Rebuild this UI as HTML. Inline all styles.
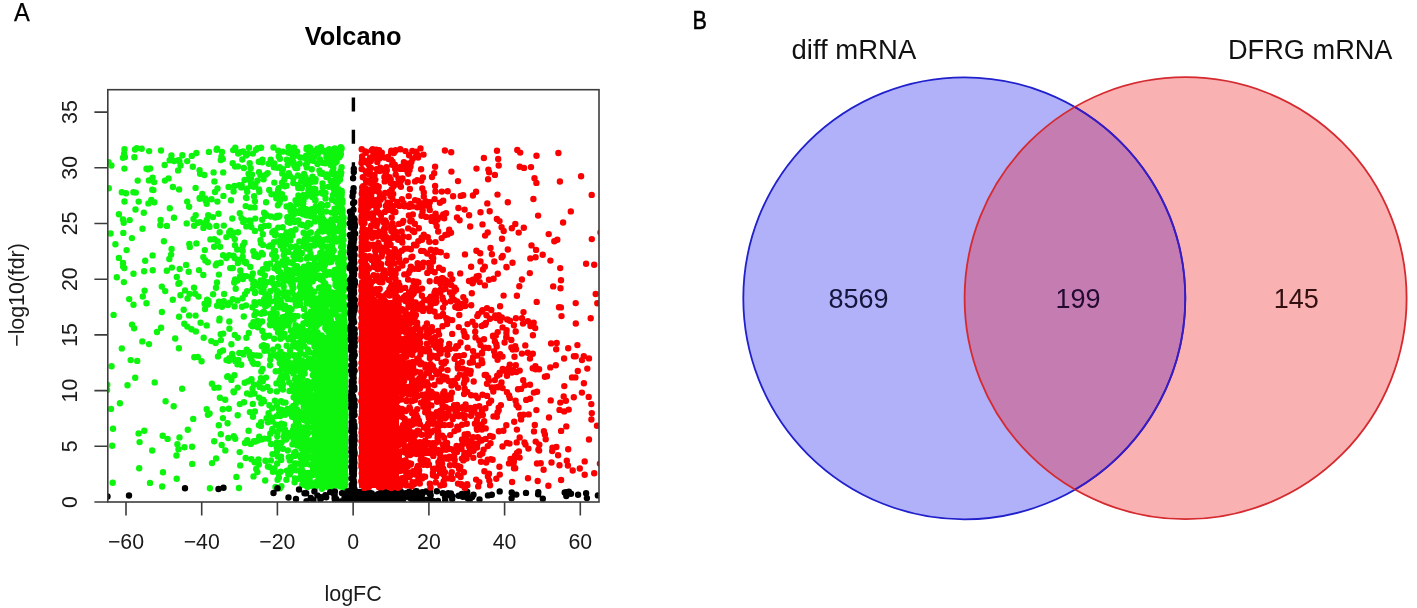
<!DOCTYPE html>
<html lang="en">
<head>
<meta charset="utf-8">
<title>Volcano plot and Venn diagram</title>
<style>
html,body{margin:0;padding:0;background:#fff;}
body{width:1417px;height:608px;overflow:hidden;position:relative;font-family:"Liberation Sans",sans-serif;}
svg{position:absolute;left:0;top:0;display:block;}
text{font-family:"Liberation Sans",sans-serif;font-variant-ligatures:none;font-feature-settings:"liga" 0,"clig" 0;}
.pts{fill:none;stroke-linecap:round;stroke-width:6.4;}
</style>
</head>
<body>
<svg width="1417" height="608" viewBox="0 0 1417 608">
<rect x="0" y="0" width="1417" height="608" fill="#ffffff"/>
<defs>
<clipPath id="plotclip"><rect x="107.8" y="89.7" width="491.2" height="412.3"/></clipPath>
<filter id="soft" x="0" y="0" width="1417" height="608" filterUnits="userSpaceOnUse"><feGaussianBlur stdDeviation="0.4"/></filter>
</defs>

<!-- panel letters -->
<text x="14" y="21.3" font-size="26.4" textLength="15.8" lengthAdjust="spacingAndGlyphs" fill="#000" stroke="#000" stroke-width="0.25">A</text>
<text x="692.4" y="29.4" font-size="26.2" textLength="14.4" lengthAdjust="spacingAndGlyphs" fill="#000" stroke="#000" stroke-width="0.5">B</text>

<!-- volcano title -->
<text x="353.1" y="44.8" font-size="25.4" font-weight="bold" text-anchor="middle" fill="#000">Volcano</text>

<!-- points -->
<g clip-path="url(#plotclip)"><g filter="url(#soft)">
<rect x="318" y="335" width="30" height="152" fill="#0cf40c"/>
<rect x="359" y="300" width="40" height="188" fill="#fb0000"/>
<path class="pts" stroke="#0cf40c" d="M235.3 147.7h0M249 147.7h0M261.1 147.7h0M273.5 147.5h0M288.6 147h0M294.2 147.7h0M306.7 147.9h0M309.3 147.5h0M321 147.1h0M340.8 147.3h0M124.1 153.6h0M124.5 149.3h0M135 149.5h0M136.8 148.2h0M141.7 148.7h0M149.1 151.1h0M161 150.5h0M171.4 155.5h0M182.4 155.2h0M191.8 155.9h0M196.4 153h0M208.9 151.9h0M216.6 149.7h0M217.1 148.7h0M222 151.9h0M233.2 150.1h0M238.2 153.5h0M240.1 152.3h0M243 151.5h0M246.1 155.4h0M247.6 153.8h0M252.9 153.6h0M256 149.7h0M257.6 148.2h0M278.3 150.7h0M283 151.6h0M288.1 152.5h0M289.4 153h0M290.9 150.6h0M291.7 152.4h0M295.9 154.7h0M296.9 155.6h0M297.1 151.6h0M306.1 155.8h0M306.5 149.1h0M308.8 151.3h0M310.1 152.4h0M310.3 148.3h0M314.2 151.1h0M317.4 148.8h0M318.1 153.5h0M322.5 151h0M323.8 150.8h0M325.2 152h0M328.9 154.5h0M328.9 151.2h0M329.1 149.3h0M334.7 148.4h0M335 152.4h0M336.1 150.3h0M336.6 153.4h0M336.7 151.5h0M338.3 154.7h0M338.8 151.6h0M339.7 155.8h0M340.2 155.8h0M340.9 154h0M341.1 149.7h0M341.6 148.3h0M108.5 162.3h0M123 157.8h0M124.9 157h0M134.4 157.3h0M169.7 160.2h0M174.1 161h0M178.4 160.1h0M179.4 161.2h0M187.2 161.1h0M220.8 160.1h0M221.4 156.8h0M222.8 158.9h0M232.7 163.3h0M242.3 159.5h0M249.7 163.3h0M258.8 161.7h0M262.3 162.3h0M262.5 159.8h0M268.7 163.7h0M270.7 159.8h0M274.3 163.4h0M278.8 156.5h0M279.9 158.7h0M286.8 159.8h0M291.6 159.9h0M292.7 158.2h0M293.4 162.3h0M294 163.8h0M299.7 163.6h0M300.4 157.5h0M304.4 157.7h0M307.2 160.1h0M307.3 162.4h0M310.1 158.7h0M313.1 160.8h0M313.9 157.4h0M317.5 163.9h0M317.5 163.1h0M319.9 159.1h0M323.1 162.9h0M325.2 163.3h0M326.4 156.9h0M326.7 157.4h0M328.4 160h0M328.8 161h0M329.2 162.1h0M329.4 159h0M330.9 163.8h0M331.9 157.1h0M333.9 157.9h0M334.7 160.2h0M335.5 161.5h0M335.9 162.2h0M336.3 157.6h0M336.7 161.6h0M337 157.7h0M339.2 157.2h0M111.4 165.5h0M124.4 168.6h0M146.5 168.8h0M147.9 169.3h0M150.1 168.5h0M164.7 165h0M178.1 170.4h0M180.6 165.5h0M192.8 166.7h0M199.6 170.3h0M235.1 166.6h0M237.9 166.4h0M243.9 168h0M250.7 168.2h0M273.9 167.2h0M277.3 167.8h0M279.8 167.3h0M282.2 169.9h0M282.9 169.2h0M287.7 164.9h0M294.3 165.4h0M295.5 168.1h0M297.2 168h0M306 164.7h0M306.8 167.4h0M311.8 169.3h0M319.4 170.5h0M330.7 164.9h0M332.2 171.7h0M333.3 167.9h0M333.7 164.2h0M340.5 171h0M341.6 167.3h0M152.6 177.8h0M168.6 178.4h0M200.1 173.8h0M204.4 175h0M213.6 172.4h0M223.2 172.4h0M244.6 179.9h0M248.6 173.6h0M249.3 177.4h0M251 178.7h0M252 174.4h0M259 172.1h0M260.4 175.1h0M263.6 179.3h0M266 174.6h0M267.7 173.1h0M282.2 173.6h0M284.3 179.5h0M286.1 176.1h0M286.3 176.3h0M288.8 173.3h0M289.9 175.9h0M293.3 178.5h0M297.9 175.5h0M301.7 178.1h0M303.4 178.1h0M304.1 174h0M304.6 179.3h0M305.4 176.9h0M310.1 179.7h0M312.5 176.8h0M315.6 179.3h0M320.4 173.5h0M322 173.8h0M322.3 173h0M326.4 177.1h0M327.3 174.4h0M327.8 176.8h0M331.9 173.8h0M333.8 172.6h0M334.2 173.2h0M334.8 175.1h0M337 174.5h0M337.1 178.6h0M340 179.8h0M340.1 174.6h0M340.8 175.1h0M341.2 172.8h0M137.7 180.6h0M148.9 180.4h0M154.2 182.1h0M164.9 180.6h0M172.9 187h0M195.6 187.9h0M214.4 181.4h0M228.6 186.9h0M234.5 186h0M239.2 185.3h0M241.2 187.4h0M241.7 185.3h0M250.6 181.8h0M250.7 186.1h0M252.9 184.8h0M253.8 186.7h0M255.5 184.1h0M257.4 180.8h0M274.3 182.6h0M282 182.8h0M284.7 186.2h0M286.5 185.8h0M293.3 183.1h0M297.9 184.9h0M301.2 181.5h0M305.4 183.8h0M305.9 180h0M308.7 186.1h0M310 181.5h0M311.8 181.7h0M312.9 180.5h0M314.7 181.2h0M315.3 181.6h0M322.6 183.5h0M322.8 187h0M322.9 187.3h0M328.7 186.7h0M330.6 180.8h0M332.3 183.1h0M332.6 181.2h0M334 183.9h0M334.9 180.2h0M335.3 187.6h0M335.9 186.7h0M336.9 183.5h0M338.3 181.3h0M108.8 188.2h0M121.8 192.3h0M126 193.3h0M133.4 192.2h0M135.8 192.6h0M152.3 189.7h0M153.4 190.1h0M179.1 189.4h0M202.3 194h0M215 192h0M217.5 188.5h0M223.4 195.9h0M233.6 191.4h0M246.7 188.7h0M247.2 191.8h0M259 189.4h0M259.3 191.8h0M269.2 190h0M271.5 194.3h0M275.8 194.3h0M278.1 190h0M278.7 193.5h0M278.7 188.1h0M282 194.3h0M298.3 188h0M298.4 195.4h0M301.8 188.3h0M303.6 195h0M308.4 190.5h0M308.5 192.6h0M310.5 195.5h0M313.1 192.4h0M313.8 188.7h0M313.8 190.2h0M315.3 189.3h0M316 193.7h0M321.2 192.7h0M322.9 193.8h0M325.5 192.9h0M333 195.1h0M333.7 188.9h0M333.9 193.6h0M336.6 193h0M338.4 189.2h0M339.4 192.6h0M341.7 191.4h0M341.7 190.9h0M341.7 195h0M341.8 192.3h0M124.5 201.5h0M138.7 201.6h0M148.4 203.4h0M151.3 199.9h0M154.3 202.2h0M187.2 201.6h0M199.6 198h0M199.7 198.7h0M205.3 198.5h0M205.6 200.6h0M206.7 203.8h0M211.5 199.2h0M217.4 201.6h0M231 200.2h0M246 197.6h0M246.5 198h0M254.1 196.2h0M254.9 201.2h0M266.1 202.2h0M276.3 198.3h0M279.6 203h0M279.9 198.2h0M280.1 200.2h0M284.7 198.2h0M295.6 200.2h0M296.9 203.9h0M300.2 201.1h0M301.9 199.5h0M302.8 202.4h0M303.2 203.6h0M303.5 200.5h0M305.2 197.1h0M305.9 196.8h0M312.6 197.2h0M313.5 197.5h0M315.2 200.6h0M315.5 199.9h0M325.6 198.5h0M332 199.7h0M335.8 201.8h0M337.1 201h0M338.4 197.8h0M342.4 200.3h0M342.5 202.8h0M135.5 209.5h0M169.8 208.3h0M189.1 206.7h0M245.7 206.1h0M250.3 207.4h0M254.6 207.4h0M277.9 205.2h0M286.6 206.5h0M290.2 205.3h0M290.5 210.6h0M292.2 206.8h0M293.8 209.2h0M299 211.8h0M300.5 209.6h0M302.8 205.5h0M303.4 209.4h0M305.6 209h0M309 210h0M311.3 212h0M311.8 209.1h0M315.7 206.4h0M317 210h0M320.9 207.5h0M321.1 204.1h0M322.5 205.4h0M326 211.5h0M327.5 205h0M334.6 208.8h0M336.8 209.2h0M338.4 205h0M338.8 210.4h0M339.5 206.9h0M341.3 212h0M341.8 208.1h0M342.1 209.5h0M342.6 210.3h0M104.2 215.1h0M118.9 214.2h0M123 219.5h0M143.8 212.8h0M174 217.8h0M193.5 219h0M195.7 215.1h0M206.8 219.9h0M208.2 215.2h0M212.9 217.1h0M218.5 213.7h0M232.3 218.5h0M239.8 213.2h0M241.5 218.1h0M243.9 220h0M255.3 218.6h0M262.2 219.7h0M264.1 212.8h0M265.3 215.9h0M265.9 214.4h0M270.8 216.5h0M275.1 217.5h0M277 215.9h0M278.5 216.7h0M279.4 215.7h0M287.3 217.2h0M290 216.3h0M294.1 214h0M298.5 212.7h0M299.5 212.7h0M302.9 214.3h0M306.1 215.2h0M308.5 215.5h0M311.2 216.2h0M311.2 212.7h0M312.8 215h0M314.4 212.1h0M315.4 217.8h0M318.8 218.2h0M320.9 213.1h0M321.9 216.6h0M323.4 219.5h0M331.4 219.5h0M331.5 212.6h0M334.6 213.5h0M335.4 217.8h0M337.8 218.9h0M339.9 212.6h0M341.7 219.3h0M341.9 218.9h0M342.1 215.6h0M342.1 218.5h0M342.5 213h0M342.6 217.5h0M343.6 217.4h0M123.7 222.8h0M129.7 220.1h0M160.3 225.2h0M160.6 220h0M166.9 225.9h0M186.7 223.4h0M194.1 225.7h0M198.2 222.7h0M200 222.2h0M203.4 227.9h0M205.2 222.9h0M208.1 225.1h0M209.5 226.8h0M216.4 225.9h0M223.8 225.6h0M243.2 221.9h0M244.7 220.5h0M246.3 226.4h0M249.7 220.4h0M250.4 222.4h0M251.3 227.1h0M261.1 227h0M264.5 226h0M268.6 225.8h0M278.2 227.6h0M282.7 227.2h0M287.7 221.7h0M289.9 222.7h0M290.8 221.4h0M293.8 220.2h0M294.7 222.1h0M298.2 220.4h0M300.3 224.4h0M302.4 225h0M306.8 226.7h0M308.1 223.2h0M308.2 222.9h0M308.3 223.3h0M309.4 224.5h0M310.5 223.7h0M314.8 221.4h0M321 223.3h0M321.4 226.8h0M323.9 223.3h0M324.6 225h0M325.2 227.2h0M325.2 222.5h0M326.3 221.7h0M326.4 225.6h0M326.5 228h0M327.8 226.8h0M328.5 221.7h0M328.8 222.7h0M329.5 227.7h0M330.5 225.5h0M332 228h0M332.4 222h0M332.9 225.5h0M337.9 220.3h0M339.6 226.4h0M339.9 225.8h0M340.3 220.1h0M341.2 223.9h0M341.8 223.6h0M342.3 227.7h0M342.5 223.2h0M342.7 225.3h0M342.9 226.4h0M343.2 220.1h0M343.2 226.3h0M343.6 223.7h0M110.6 233.5h0M123.3 232.9h0M142.5 228.7h0M219.7 232.2h0M229.2 232.2h0M230.4 230.8h0M232.6 235.4h0M233.4 232.7h0M238 232.2h0M254.9 230.9h0M261 228.7h0M262.8 234.3h0M272.3 232.4h0M273.4 231.2h0M274.8 230.6h0M275.1 235.2h0M275.8 233.9h0M285.8 234.7h0M286.7 232.5h0M287.9 235.1h0M290 232.4h0M291.1 231.2h0M291.7 232.4h0M292.5 232.7h0M292.5 235.5h0M295.5 229.5h0M303.6 232.7h0M308.8 233.3h0M310.8 232.5h0M317.3 233.8h0M319.2 231.5h0M322.4 231.6h0M323.1 228.6h0M324 231.1h0M324.1 229.3h0M329.4 232.8h0M332.8 230.8h0M333.8 236h0M335 230.8h0M336 228.6h0M337.7 230.8h0M341.8 234h0M342.3 229.6h0M342.9 230.2h0M343.5 234.7h0M131.9 238.1h0M163.9 241.3h0M189.3 243.9h0M196.4 243.4h0M210.4 239.4h0M214.3 239.3h0M217.7 241.4h0M226.4 237.1h0M234.8 239.1h0M244.5 242.8h0M260.5 240.2h0M261.1 243.5h0M273.9 242.1h0M277.5 241.5h0M278.2 241.7h0M281.2 236.1h0M281.3 238.9h0M282.6 243.2h0M282.6 241.6h0M285 240.2h0M287.3 240.4h0M290.4 240.5h0M299.3 241.4h0M302.7 242.1h0M304.9 238.9h0M305.6 240.4h0M305.9 242.1h0M306.8 237h0M307.8 237.9h0M308.7 239h0M313 239.2h0M315.2 243.4h0M316.9 237.3h0M317.4 242h0M317.5 243.9h0M318.7 238.1h0M320.5 240h0M321.6 241.1h0M324.7 239.8h0M327.9 238.7h0M328.5 239.9h0M329.6 239.2h0M334.8 241.4h0M336.7 241.6h0M338.8 238.8h0M341.2 237.5h0M342.4 242h0M343 240.4h0M343.5 239.9h0M115.4 244.2h0M126.6 250.1h0M171.6 249h0M189.8 246.9h0M204.8 250.1h0M214.1 246.7h0M220.1 246.8h0M235 245.2h0M237.2 249.5h0M242.7 251h0M242.8 245.7h0M253.3 251.3h0M262.9 244.9h0M268.7 246.4h0M269.4 246.4h0M270 245.5h0M272.2 245.3h0M274.2 250.6h0M275.2 251h0M280.6 245.4h0M283.2 249.8h0M283.9 250.2h0M285.2 250.7h0M285.9 244.6h0M288.3 251.9h0M291 246.9h0M295.9 246.5h0M296.7 250.2h0M298.7 248.3h0M303.6 245.3h0M304.2 246.3h0M306.2 248.5h0M308.8 245.4h0M309.6 249.4h0M314.2 245.6h0M314.2 244.8h0M314.9 245h0M320.8 245.3h0M322.3 247.5h0M322.4 245.3h0M323.7 246.5h0M327.6 246.5h0M328.5 250.5h0M330.9 247.1h0M331.9 245.3h0M332.7 248.9h0M333.7 250.4h0M341.1 246.6h0M341.9 248.6h0M342.9 245.5h0M343.2 250.4h0M343.3 245.4h0M343.6 251.3h0M118.9 257.9h0M152.6 255.4h0M169.3 259h0M171.1 254.6h0M203.3 257.1h0M223.1 255.2h0M226.4 258.1h0M229.1 255.3h0M233.5 255.8h0M234.7 258h0M237.5 259.6h0M242.4 259h0M242.7 256.7h0M254.3 256h0M254.8 254.5h0M255.5 256h0M255.5 254.1h0M258 257h0M261.7 253h0M262.8 254.4h0M272.2 254.5h0M273.8 252.1h0M274.3 258.9h0M276.2 256.9h0M283.8 255.2h0M286.5 259.4h0M293.5 255.7h0M293.5 254.7h0M294.6 259.2h0M295.8 252.4h0M296.5 256.1h0M296.9 257.5h0M297 254.6h0M298.1 258.2h0M300.4 259.3h0M300.4 253h0M301.8 253.3h0M306.8 258.4h0M307.4 257.1h0M310.5 253.6h0M312.2 257.9h0M316.9 257.8h0M320.3 252.9h0M321.1 257.9h0M324 253.5h0M324.2 256.6h0M325.7 258.2h0M326.5 259.8h0M327.3 252.5h0M328.6 257.8h0M331.9 255.6h0M332.2 252.2h0M332.5 258.1h0M335.7 258.3h0M340 256.9h0M340.8 253.3h0M343.2 255.5h0M343.8 258.5h0M123 262.9h0M123.1 266.5h0M145.2 260.7h0M171.9 267.6h0M186.1 264.9h0M205.3 260.5h0M207.8 262.3h0M215.8 265.3h0M217 263.4h0M220.7 262.7h0M232.8 268h0M237.9 263.1h0M244.4 262h0M245.9 262h0M246.1 263.3h0M250.3 266.9h0M266.4 264.2h0M269.9 263.7h0M275.9 267.5h0M276.6 266.2h0M277.8 263.5h0M278.6 264.1h0M281.7 264.4h0M282.7 261.1h0M284.6 265.2h0M285.1 265.4h0M289.3 262.2h0M292.8 263.6h0M296.8 267.6h0M297 266.3h0M304 266.6h0M308.5 266.1h0M308.7 264.8h0M310.1 265.7h0M312.5 267.2h0M314.5 263.8h0M314.6 263.3h0M316.2 266.2h0M316.6 266.8h0M319.8 264.8h0M319.9 264h0M320.3 263.8h0M321.2 261.2h0M321.2 264.5h0M321.3 261.8h0M322.2 263.2h0M322.7 261.7h0M325 264.7h0M326.9 262.1h0M328.1 261.9h0M329.6 262.2h0M331.4 261.7h0M331.6 260.8h0M338.2 263.1h0M339.7 263.9h0M341.2 260h0M343.2 261.3h0M343.2 265.3h0M344 265.2h0M344.2 264.8h0M124.3 268.1h0M133.5 273.8h0M144.1 271.2h0M152.7 270.2h0M166.8 270.8h0M179.7 269h0M188.7 271.7h0M199 270.1h0M203.3 275h0M218.9 274.6h0M230.2 268.1h0M240.3 270.5h0M243.1 276h0M252.8 273.5h0M260.3 272.5h0M261.5 273h0M262.1 271.4h0M262.9 269.3h0M264.8 275.4h0M267.6 268.6h0M274.5 268.2h0M277 269.4h0M278.1 271.1h0M278.4 268.1h0M280.3 272.1h0M284.3 274.8h0M286.7 269.6h0M286.9 275.1h0M287.5 272.8h0M289 270.1h0M290.7 274.9h0M291.9 274.5h0M293 274h0M293.6 270h0M295.8 271.6h0M297.3 272.4h0M297.7 272.2h0M297.7 273h0M297.8 270.7h0M298.5 272.9h0M299.5 273.8h0M299.6 268.9h0M299.6 273.7h0M302.1 269.7h0M302.3 274.2h0M306.7 271.2h0M312.1 269.5h0M312.2 270.7h0M315.2 273.8h0M317.2 269.2h0M319.4 275.7h0M320.9 268.1h0M323.9 269.5h0M324.2 269.2h0M324.7 274.9h0M325.8 275.3h0M327 272.1h0M327.1 272.2h0M330 272.1h0M330.3 274.4h0M334.8 270h0M335.5 272.5h0M337.1 272.2h0M337.8 268.9h0M338 275.4h0M339.8 271.5h0M341.1 268.3h0M343.1 271.1h0M343.6 268.3h0M344.1 275.7h0M116.8 277.3h0M123.9 282.1h0M176.8 277h0M178.4 283.7h0M179.5 283h0M217 282.4h0M234.2 282.5h0M235.1 279.5h0M237.4 280.6h0M240 276.5h0M242.9 279.1h0M246.3 276.1h0M251.6 279h0M251.7 276.6h0M253.3 283.8h0M254.2 281.6h0M257.6 283.9h0M260.7 280.4h0M261.6 282.4h0M262.7 281.2h0M264.2 282.6h0M264.5 281.5h0M268 282.1h0M272.1 278.3h0M273.4 283.8h0M278.7 277.6h0M279 278.3h0M281.7 277.2h0M283.4 282.9h0M283.9 281.4h0M285.2 280h0M287.4 277.9h0M290.1 281.8h0M291.5 280.9h0M293 279.5h0M297.5 279.4h0M301.1 278.9h0M301.1 276.4h0M304.3 280.4h0M306 276.6h0M306.5 280.6h0M307.7 283.4h0M308.7 276.2h0M310.6 279.9h0M312.7 281.2h0M313.3 276.7h0M313.4 278.5h0M315 278.3h0M316 276.3h0M316.8 277.9h0M316.9 276.5h0M319.7 278.2h0M320.7 279.4h0M321 278.5h0M321.6 278.2h0M322.5 280.3h0M323.5 281.6h0M323.6 281.7h0M325.3 283.7h0M334.7 278.7h0M335.2 277.5h0M335.7 283.2h0M337.1 283.8h0M338.4 280.4h0M341 279.5h0M341.3 277h0M341.3 278.7h0M342.5 277.7h0M343 280.1h0M343 278.6h0M343.1 282.3h0M343.3 283.7h0M343.6 276.4h0M343.7 279.5h0M344.2 281.3h0M144.6 290.6h0M161.8 286.6h0M165.2 291.1h0M185 290.4h0M194 287.7h0M216 287.8h0M235.7 288.8h0M247.1 291.1h0M252.7 288.6h0M254.9 291.7h0M258.4 285.7h0M261.3 291.8h0M261.3 288.2h0M263.6 289.9h0M264.7 285.2h0M270.4 291.3h0M274.5 288.5h0M277.4 284h0M277.7 291.1h0M278 284.2h0M283.7 286.7h0M284.2 291.7h0M291.6 285h0M292.6 289.1h0M292.8 284.3h0M293.4 287.7h0M300 286.7h0M300.4 285h0M300.6 287.3h0M300.7 284.3h0M301 290.8h0M302.3 285.6h0M303.8 290.3h0M306.1 287.9h0M306.5 284.1h0M307.1 290.8h0M309.3 285.9h0M309.3 291.7h0M310.6 289.6h0M314.5 291.7h0M319.2 287.6h0M319.3 288.1h0M321.3 287.2h0M321.3 291.6h0M324.4 286.4h0M325.9 290.6h0M326.1 290.2h0M326.8 289.6h0M327.9 291.5h0M327.9 290.4h0M328.5 287.3h0M329 291.5h0M335.5 285.3h0M336.9 286.8h0M338.4 285.2h0M339.4 290.7h0M341.6 286.9h0M341.9 284.5h0M342.4 289.9h0M343.1 291.1h0M343.4 288.6h0M343.4 286.7h0M343.6 290.7h0M343.8 289.8h0M344.2 287.9h0M344.2 285.4h0M344.3 284.1h0M129.2 299.1h0M142.8 296.5h0M172.8 299.8h0M180.4 295.2h0M187.6 298.5h0M189.6 293.9h0M195.2 293.8h0M198.5 296.6h0M207.1 299.8h0M213.1 294.2h0M224.1 294h0M232.8 299.2h0M242.6 298.2h0M245 294.3h0M255 293.1h0M264.1 299.2h0M265.5 294.7h0M267.1 294.7h0M269.2 297.1h0M276.7 296.2h0M277 296.7h0M277.1 292.1h0M280.6 299.3h0M281.9 293.1h0M284.1 296.1h0M287.5 299h0M287.5 296.6h0M287.7 292.7h0M291.8 299.4h0M292.2 292.8h0M295.2 299.2h0M295.5 295.7h0M297.6 299.2h0M299.2 295h0M299.6 296.2h0M299.9 293.8h0M300.1 299.4h0M302.8 292.2h0M303.1 295.1h0M303.7 296.8h0M304.3 293h0M306.6 298.7h0M308 295.4h0M308.2 292.1h0M308.9 292.5h0M310.9 294.2h0M312 294.8h0M312.4 297.1h0M314.8 298.1h0M315.2 299.4h0M320.1 297.8h0M320.9 297.5h0M321.2 292.9h0M323.2 295h0M326.1 296.7h0M326.2 297.4h0M328 295.6h0M329.7 298.6h0M329.7 297.9h0M331.1 298.9h0M331.3 294.1h0M332.5 292.8h0M332.7 292.6h0M334.2 293.6h0M334.9 295.1h0M335.1 294.2h0M335.6 293.7h0M335.6 297.3h0M335.6 292.9h0M336.1 293.7h0M337.6 297.5h0M338 295.2h0M338.4 293.3h0M339.1 293.2h0M340.1 293.8h0M340.1 296h0M341.8 295.3h0M341.9 293.1h0M342.1 299.2h0M343.1 299.8h0M344.4 296.9h0M133.5 304.7h0M146.5 303.3h0M204.6 303.8h0M208 304.6h0M208.3 300.7h0M208.6 302h0M217.1 305.7h0M219 301.8h0M222 306.7h0M223.8 301.3h0M228 305.1h0M229.8 302.6h0M234.6 306.4h0M237.5 300.5h0M242 306.8h0M246 305.4h0M252.4 307.2h0M254.5 302.2h0M255.6 304.9h0M259.5 302.1h0M261.8 303.4h0M265.2 306h0M266 305.9h0M266 300.1h0M268.5 304.6h0M270.3 301.7h0M275.1 301h0M277.1 305.2h0M278.9 307.5h0M279.7 305.8h0M281.1 302.4h0M284.3 307.7h0M285.1 305.6h0M289.5 308h0M295.8 303.8h0M296.4 305.5h0M300 303.4h0M300.1 304.9h0M306.7 303.2h0M306.9 302.2h0M309.8 303.6h0M311.7 304.9h0M311.8 300h0M312.8 303.7h0M313.5 302.5h0M314.2 307.4h0M315.4 303.5h0M319.5 301.9h0M319.8 300.8h0M319.9 305h0M320.7 300.5h0M322.1 304.7h0M322.9 305.3h0M323.1 301.4h0M323.7 301.3h0M326.3 302.1h0M328.6 303.9h0M329.9 300.1h0M330.4 304.6h0M331.2 302.8h0M333.4 305.5h0M333.9 306.7h0M335.2 304.3h0M335.5 302.5h0M335.9 306.2h0M337 300.3h0M337.4 303.8h0M339.2 305.7h0M340.1 306.6h0M341 303.9h0M341.7 303.1h0M343 304.1h0M343.3 307.8h0M343.6 304.7h0M343.8 303.6h0M343.9 304.3h0M344.5 304.6h0M344.7 305.6h0M113.6 314.9h0M161.9 312h0M183.7 309.7h0M189.1 315.4h0M195.6 315.6h0M205 309.1h0M254.4 315.2h0M255.9 312.2h0M256.6 312.9h0M261.2 313.8h0M262.4 312.7h0M263.8 311.7h0M264.7 313.1h0M270.7 313.7h0M273.7 309.3h0M276.7 313.8h0M283.9 308.7h0M288.1 312.8h0M289.9 308.9h0M290.5 314.6h0M291.6 309.3h0M294.3 316h0M304 308.9h0M307 314.5h0M310 315.2h0M311 311.7h0M312.2 314.8h0M312.5 313.6h0M313 310.8h0M315.2 312.9h0M316.3 309.4h0M317.4 314.6h0M318.9 310.3h0M321.3 314.1h0M322.3 308.9h0M322.5 313.3h0M323.5 308.4h0M326.1 309.8h0M326.6 313.4h0M327.5 312.2h0M327.9 315.7h0M329.6 312.2h0M330.8 312.8h0M332.5 309.5h0M332.6 312.4h0M333 312.3h0M333.1 314.4h0M333.3 313.5h0M336.5 310.3h0M339.4 309.4h0M341 308.2h0M342.3 308.7h0M343.5 315.9h0M344.1 315h0M344.2 308.1h0M344.3 311.3h0M344.4 308.7h0M344.4 310.6h0M344.5 313.6h0M344.7 310.8h0M179.1 316.8h0M184.3 323.8h0M200.6 322.8h0M219.3 320.4h0M219.6 318.8h0M229.3 321.5h0M243.8 316.5h0M253.4 322.2h0M257.7 320.9h0M259.4 323.4h0M262.1 321.5h0M270.3 319.4h0M270.7 320.1h0M271 317.5h0M273.6 320.7h0M274.6 316.9h0M277.2 323.5h0M279.9 319.5h0M282.6 317.3h0M283 321h0M284.2 321.3h0M286 316.1h0M289.1 320.5h0M289.5 321.8h0M290.1 318.9h0M291.3 317.6h0M293.6 319.4h0M297.7 316.1h0M303.4 323.5h0M304.2 316.1h0M306.3 322.3h0M307.3 319.7h0M308.2 321.4h0M308.5 316.6h0M308.7 317.4h0M309 320.9h0M309.8 323.6h0M311.4 316.9h0M311.5 321.8h0M314.2 321.4h0M314.3 316h0M314.6 320.8h0M314.9 321.9h0M315.1 316.2h0M317.3 319h0M317.5 322.4h0M317.9 318.9h0M318.6 324h0M318.8 322.9h0M319.3 323.6h0M320.8 321.5h0M320.8 318.8h0M322.1 322h0M322.3 316.3h0M325.3 322.5h0M326.3 320h0M329.4 320.7h0M329.9 323.4h0M330.8 319.9h0M333.9 323.8h0M337.7 323.5h0M337.9 316.1h0M338.2 318.4h0M339.6 316.5h0M340.2 317.8h0M340.5 318.8h0M341.4 322.5h0M343.8 318.2h0M343.9 322.2h0M343.9 319.2h0M343.9 320.3h0M344.5 323.2h0M344.6 322.1h0M132 324.6h0M134.1 328.2h0M161.1 327.8h0M187.3 326.6h0M191.5 329.3h0M195.9 331.4h0M206.7 325.4h0M229.4 328.8h0M251.3 325.3h0M252.5 326.2h0M257.8 327.2h0M262.3 330.9h0M269.8 324.6h0M270.2 325.2h0M275.3 326h0M276.2 327.7h0M276.3 326.2h0M277.4 327.3h0M279.3 329h0M281.3 324.7h0M282.4 327.5h0M283.5 326h0M288.3 325.4h0M291 330.7h0M295 328.9h0M295.6 325.3h0M298 326.8h0M299.7 330.9h0M302.9 329.2h0M306.6 331.8h0M307.5 331.1h0M308 324h0M309.7 324.5h0M310.5 325.6h0M312 326.7h0M313.8 330.9h0M314.1 324.7h0M314.2 329.5h0M315.2 331.4h0M315.7 331.6h0M316 326.4h0M316.3 326.4h0M317 325.6h0M325.3 328.1h0M325.5 326.5h0M326.6 329.7h0M328.4 332h0M331.1 328.3h0M332.7 326.5h0M333.5 327.9h0M333.7 329.7h0M336.1 330.5h0M336.2 327.4h0M336.7 327.8h0M337.3 328.6h0M339 330.6h0M339.2 328.7h0M339.4 324.2h0M340.2 327h0M341.4 325.8h0M342.9 328.1h0M343.3 330.9h0M343.6 327h0M343.7 325h0M344.2 329.1h0M344.3 324.7h0M344.6 327.1h0M345.1 330.8h0M345.1 327.1h0M157 332h0M175.2 338.5h0M203.7 337.8h0M220.7 334.2h0M223.2 333.6h0M234.8 334.9h0M237.8 337.8h0M246.4 337.8h0M248.8 333h0M263.8 336.6h0M264.6 337.5h0M265.6 335.8h0M269.3 335.7h0M274.2 338.8h0M278 332.6h0M280.5 338.8h0M280.6 336.8h0M281.4 332.7h0M283.6 336.7h0M284.6 334h0M288.5 339.2h0M289.8 339h0M290.7 337.1h0M292.7 334.3h0M293 339.9h0M294.8 334.8h0M295.3 336.3h0M295.8 332.3h0M296.3 333.6h0M298 336.1h0M301.3 339.2h0M301.6 338.6h0M302.5 335.4h0M303 332.1h0M303.8 338.1h0M306.1 336.1h0M306.5 339.2h0M307.5 333.9h0M307.7 337.7h0M307.8 335.4h0M307.9 334.3h0M308 339.5h0M308.2 335.9h0M312.1 337.5h0M312.1 333.1h0M312.2 339.4h0M314.6 335.7h0M315.7 338.5h0M316.3 337.7h0M316.9 338.8h0M317.5 335h0M317.6 332.5h0M318.6 339.1h0M319.5 335.7h0M319.8 336.6h0M321.6 337.5h0M321.7 335.5h0M326.5 338.8h0M327.5 338.5h0M328.8 338.8h0M331 334.4h0M332.4 337.1h0M332.7 335.5h0M332.8 335.6h0M334.7 334.5h0M335.9 337.2h0M336 338.6h0M336.5 333.8h0M337 332.2h0M337.6 334h0M339 338.9h0M339 333.1h0M340.1 332.6h0M340.6 333.5h0M340.9 333.4h0M340.9 338.3h0M343.4 332.2h0M343.9 338.3h0M344.5 333.6h0M344.8 336.2h0M142.3 341.4h0M149 344.1h0M211.3 341.1h0M215.7 343h0M220.9 340.1h0M231.4 344.2h0M261.8 346.2h0M263.6 345.2h0M266.8 346.6h0M266.8 346.3h0M277.9 346.6h0M286.7 345.8h0M293.1 345.3h0M295.2 346.5h0M296.2 346.5h0M298.5 343h0M298.5 348h0M299.3 346.4h0M300.4 347.1h0M301.8 344.2h0M303.5 341.7h0M304.3 346.4h0M309.7 341.6h0M313.3 342h0M314.4 345.9h0M314.8 346.8h0M315.8 346.4h0M316 344.2h0M316.2 345.3h0M316.8 344.3h0M317.9 343.4h0M319 344.1h0M319.1 340.1h0M319.8 347.3h0M320 343.7h0M321.4 347.9h0M321.6 345.7h0M322.3 343.5h0M323.6 341.6h0M324.1 342.8h0M324.7 343.6h0M325.5 345.1h0M325.9 341h0M326.1 344.5h0M326.2 346h0M328.7 340.2h0M330.3 340.3h0M332.4 340h0M332.8 346.3h0M333.8 343.6h0M334 344.2h0M334.6 340.7h0M335.9 340.5h0M336.5 342.7h0M336.6 340.4h0M337.1 346.8h0M338 345.9h0M340.5 340.7h0M340.7 341.6h0M340.9 343.2h0M341.3 345.1h0M341.5 347.2h0M342.6 342.6h0M342.7 347.2h0M343.9 341.8h0M344.2 340.5h0M344.3 342.4h0M344.4 341.9h0M121.8 348.4h0M178.9 348.2h0M220 351.9h0M223 350.4h0M232.2 354h0M239.3 352.9h0M241.4 353.1h0M242.5 353.2h0M243.4 354.4h0M246.7 349.8h0M246.8 350.8h0M249.1 351.9h0M253.1 355.2h0M256.8 355.5h0M259.6 355.8h0M264.5 350.7h0M267.2 350.5h0M271 355.2h0M273.2 349.8h0M275.3 355.5h0M278.4 354.4h0M280.5 351.6h0M280.9 354.7h0M283.5 355h0M283.7 354.7h0M286.1 355.4h0M289.3 355h0M290 350.5h0M294 355.4h0M294.4 355.3h0M299.2 354.4h0M300.1 354h0M300.4 348.5h0M300.5 352h0M305.5 354.7h0M307.9 349.4h0M310.1 352.6h0M314.9 355.3h0M315.8 351.8h0M316.3 354.9h0M317.3 350.3h0M317.3 352.9h0M318.1 350.1h0M318.6 353.4h0M318.7 348.4h0M319.2 355.3h0M320 353.6h0M321.3 350.6h0M321.7 354h0M323.1 350.9h0M323.1 349h0M323.1 350.3h0M327.3 348.8h0M327.6 348.7h0M328.3 348.6h0M329.9 348.9h0M330.1 353.8h0M331 354.5h0M332 350.7h0M333.3 353.5h0M333.8 356h0M336.2 351.8h0M336.7 349.2h0M337.4 354.2h0M337.6 352h0M337.7 349.6h0M339.1 348.9h0M339.6 348.7h0M340.5 351.2h0M341.8 349.7h0M342.2 354.4h0M342.4 350.9h0M342.7 354.4h0M343.2 354.6h0M343.3 354.7h0M344 349.6h0M344.2 351.2h0M344.5 353.4h0M345.1 349.8h0M130.7 360.1h0M137.2 360.9h0M194.3 357.3h0M197.8 357h0M201.6 361.2h0M218 356.4h0M226.5 360.1h0M228.9 360.8h0M229.3 358.3h0M232.7 357.4h0M233.9 359.4h0M235.2 360.1h0M235.5 361.3h0M238.3 360h0M250 356.1h0M251.2 358.9h0M252.5 362h0M253.8 363.7h0M270.3 359.5h0M277.7 356.7h0M279 358.3h0M279.8 362.9h0M282.9 357.5h0M285.3 361.3h0M285.6 362.1h0M288.2 356.8h0M289.3 362.8h0M295.2 356.5h0M295.3 362h0M296.2 356.2h0M296.5 359.7h0M296.9 359.2h0M297.9 363.1h0M298.1 360.8h0M298.3 356.4h0M301.9 360.4h0M306.7 361.9h0M308.8 362.1h0M309 359.1h0M309.1 363.1h0M309.5 359.4h0M310.5 359.2h0M311.1 362.5h0M311.6 360.8h0M311.9 361.8h0M312.3 359.2h0M312.4 362.2h0M312.6 364h0M318.2 360.9h0M319 356.8h0M319.8 357h0M320.3 356.6h0M321.4 363.6h0M323.1 358.7h0M323.1 356.8h0M323.3 358.5h0M324.5 359.8h0M326.2 363.4h0M327.7 356h0M327.8 363.8h0M327.8 359h0M327.8 356.4h0M329.2 360h0M332 357.3h0M332.3 360.2h0M332.5 358.4h0M333.1 363.6h0M333.6 364h0M333.7 363.1h0M334.3 360.1h0M335.1 362.6h0M335.7 359.3h0M337.5 360.6h0M338.5 363.6h0M339.2 357h0M339.9 360.7h0M341.4 361h0M342.6 361h0M342.7 357.7h0M343.1 357.2h0M343.9 357.2h0M344.3 356.5h0M344.8 356.2h0M344.9 363.4h0M344.9 360.7h0M345 360h0M345.1 359.8h0M345.3 359.4h0M111.6 366.3h0M237.4 364.3h0M241.2 364.7h0M257.7 364h0M261.3 371.4h0M262.6 368.9h0M270 365.3h0M275.7 371.2h0M279.8 371h0M282 366.4h0M282.8 368.3h0M283.3 366.9h0M285.3 369.2h0M287 367.8h0M287.7 371.4h0M288.2 371.4h0M288.4 368.9h0M289.3 368.6h0M291.1 366.2h0M291.4 365.4h0M291.5 370.6h0M292.6 370.3h0M295.2 369.2h0M296.7 370.5h0M297.1 367.7h0M298.3 364.3h0M298.9 366.4h0M300.3 369.9h0M300.3 364.3h0M300.8 366.1h0M305.1 368.2h0M306 365.8h0M306.3 364.7h0M306.7 367.1h0M308.8 366.5h0M311.7 367.6h0M311.8 367.1h0M311.9 368.7h0M314.2 371.8h0M315.3 370.3h0M317.3 366h0M317.4 365.9h0M317.5 366.7h0M318.5 369.8h0M319.2 368.5h0M320.3 368.3h0M320.9 365.7h0M321.4 370.2h0M321.5 370.3h0M323.4 364.3h0M323.5 369.7h0M323.7 368.6h0M323.7 365.5h0M326.2 365.1h0M329.4 370.5h0M329.9 371.4h0M330 368.7h0M330.2 371.7h0M332.9 369.3h0M333.3 371.5h0M333.6 370.3h0M334.3 368.1h0M335.7 371.6h0M336 364.5h0M336.4 364.4h0M338.4 371.3h0M338.8 368.4h0M340.6 365.1h0M341.1 371.7h0M341.1 369.5h0M341.5 365.3h0M341.5 368.5h0M342.5 366.4h0M343.7 366.5h0M344.1 368.8h0M344.2 366h0M344.5 367h0M344.5 371.6h0M344.8 369.3h0M345.2 364.1h0M345.3 370.6h0M345.3 366.4h0M135.2 377.7h0M227.2 376.7h0M227.9 376.2h0M231.4 379.9h0M231.5 378.1h0M234.4 375.3h0M251.4 379.1h0M251.6 379.5h0M260.9 378.1h0M266 377.6h0M280.5 378.2h0M281.3 375.8h0M284.5 375.3h0M287.2 377.4h0M293.3 373.4h0M293.5 372.5h0M295.1 379.3h0M296.7 377.8h0M297.8 379.3h0M300.6 377h0M300.8 373.7h0M302.4 376.8h0M304.7 373.5h0M312.8 375.3h0M313.5 374.2h0M314.6 375.3h0M315.4 379.3h0M315.8 374.5h0M317.9 375.5h0M318.5 372.5h0M321.2 372.8h0M322.7 375.8h0M323.4 372.2h0M326.1 377.6h0M326.9 374.1h0M328 376.2h0M331.6 373.3h0M331.8 378.1h0M332.6 376.7h0M332.8 375.6h0M334 374h0M334.4 375.9h0M334.9 379.1h0M335.9 377h0M336.3 372.8h0M337 376.6h0M337.8 379.7h0M338.5 376.8h0M338.9 374.2h0M339.1 373.4h0M339.4 372.5h0M339.8 378h0M339.8 374.9h0M341.2 377.8h0M341.5 378.3h0M342.1 377.7h0M342.5 373.8h0M343.1 378h0M344.1 377.6h0M345.2 375.2h0M345.2 378.4h0M345.2 377.1h0M345.4 372.5h0M107.3 384.8h0M127.5 385.2h0M154.7 382.4h0M211.9 383.7h0M214.4 387.8h0M218.5 387.6h0M237.7 387.6h0M244.7 382.7h0M248 381.4h0M253.9 384.8h0M259.6 382.9h0M259.7 386.9h0M262.8 381.2h0M267.4 386.9h0M276.5 383.4h0M279.5 380.1h0M281.3 386.9h0M282 380.2h0M283 384.7h0M289.2 382.4h0M291.9 385.1h0M292.2 385.1h0M295.4 387.2h0M295.4 387h0M296.1 384.4h0M296.6 381h0M297.7 385.3h0M300 386.7h0M300.8 380.9h0M301.4 387.1h0M302.1 384.3h0M302.9 384.6h0M304.2 385.5h0M304.6 384.3h0M306.2 386.5h0M307.2 381.3h0M308.3 382h0M308.4 382.3h0M308.8 382.5h0M311.8 385.4h0M313.5 386.4h0M313.9 385.8h0M314.2 385h0M314.2 380.7h0M314.9 382.3h0M316.6 386.8h0M317.3 380.2h0M319.9 380.8h0M320.3 381h0M323.4 387.9h0M323.9 383.8h0M326.3 380.6h0M328.6 386.7h0M328.9 384.9h0M331.5 384h0M332.5 382.3h0M332.9 380.8h0M334.2 383.5h0M334.7 385.6h0M335.3 384.7h0M336.2 382.2h0M336.3 385.9h0M337.1 385.8h0M338.1 382.4h0M338.4 384.3h0M339.4 380.8h0M339.7 386.9h0M340 388h0M341.7 382.2h0M342.3 386.3h0M342.8 384.7h0M343 382.8h0M343.9 380.6h0M344 383.6h0M344.2 383.1h0M344.3 384.3h0M344.4 384.6h0M344.5 387.1h0M344.8 385h0M345 383.7h0M107.1 389.9h0M182.1 388.8h0M233.5 391.4h0M233.9 392.2h0M247.1 393.4h0M250.4 394.4h0M252.5 388.7h0M254.5 393.6h0M263 388.5h0M270.1 390.7h0M276.8 391.4h0M282.9 389.5h0M289.5 391h0M293.1 391.1h0M295 393.5h0M296.3 389.7h0M296.5 391.7h0M297 395.1h0M297.2 395h0M298 395.4h0M299.2 390.6h0M300.8 390.9h0M302.6 395.1h0M302.9 394.4h0M303.4 392.6h0M304 389.9h0M305.3 388.5h0M306.3 389.5h0M308.2 390.8h0M309.2 392.2h0M310.4 393.6h0M310.6 395.1h0M313.3 388.1h0M315.5 388.8h0M315.7 394.6h0M316.4 395.2h0M316.5 390h0M316.7 388.5h0M318.4 389.6h0M318.8 395.4h0M319.3 392h0M320.8 391.1h0M321.1 392.5h0M322.4 395.3h0M325.5 392.3h0M325.8 389h0M325.8 389.6h0M326.6 394.5h0M327.1 391.1h0M328.8 388.5h0M328.9 388.9h0M329.2 395.3h0M330.2 395h0M331.4 394.3h0M331.6 392.2h0M332.1 388.6h0M332.4 388.8h0M335.6 391.6h0M335.8 391.5h0M336.1 388.2h0M336.4 395h0M336.4 389.4h0M337.2 391.5h0M337.6 393.2h0M338.9 391.6h0M338.9 393.1h0M339.2 395.3h0M340.2 394.2h0M340.9 388.9h0M341.2 392h0M341.3 391.7h0M341.4 393.1h0M343.8 388.3h0M344.3 393.4h0M344.9 389.5h0M345.2 388.8h0M119.9 403.2h0M165.6 401.3h0M219.9 397.7h0M225.2 399.7h0M244 402.3h0M252.8 403.9h0M259.2 397.8h0M261.3 403.2h0M263 399.6h0M264 401.3h0M274.9 400.8h0M281 401.2h0M283.3 402.5h0M285.5 402.6h0M293.6 397.3h0M295.4 398.4h0M295.9 403.8h0M297.9 399.3h0M298 401.6h0M298.8 397.8h0M298.9 396.9h0M299.9 398.1h0M300.6 400.9h0M302.2 401.9h0M302.6 396.3h0M303.7 397.8h0M305.1 397.2h0M305.9 397.6h0M306.2 399.3h0M306.3 401.9h0M306.7 403.9h0M308.3 401.1h0M310.1 402.3h0M310.9 400.1h0M311.6 398.4h0M311.7 402h0M312.1 398.7h0M312.7 399.5h0M313.1 403.1h0M316.1 397.9h0M316.3 396.4h0M316.4 399.2h0M316.8 396.1h0M317.7 402.9h0M318.9 401.2h0M319.4 402.5h0M320.6 398h0M321.2 401.5h0M321.5 402.9h0M321.6 403.3h0M322.5 396.2h0M323.6 402.1h0M324.3 402.5h0M324.8 398.9h0M325.9 396h0M327.3 399h0M328.1 396.5h0M329.1 402.5h0M331.8 398.2h0M333.5 398h0M333.5 401.7h0M333.5 402h0M334.3 400.3h0M337 403.7h0M337.5 401.3h0M338 397h0M338.3 402.5h0M339.9 401.1h0M340.6 403.1h0M341 400.9h0M341.6 403.4h0M343.2 403.8h0M344.2 399.9h0M344.3 401.1h0M344.4 398.9h0M344.4 402.7h0M344.6 399.2h0M344.9 398.4h0M344.9 399.4h0M345.4 402.7h0M345.4 401.3h0M111 408.9h0M173.7 406.3h0M206.7 409.3h0M222.7 409.3h0M228.8 408.7h0M239.8 404.1h0M254.9 411.5h0M269.4 405.3h0M272.2 408.2h0M276.8 405.8h0M279.1 409.1h0M280.3 409.5h0M281.4 409.6h0M287.4 408.9h0M288 409.1h0M291.8 407.5h0M292.9 406.7h0M293.1 409.2h0M293.2 405.9h0M293.3 407.4h0M295.8 409.4h0M296.6 411.2h0M296.9 409.4h0M299.4 411.6h0M303.8 406.8h0M304.6 405.7h0M307.1 408.1h0M307.4 411.7h0M308.3 406.2h0M312.6 407.8h0M312.7 405.4h0M313.2 410.5h0M315.2 411.3h0M317.7 407.7h0M318.1 412h0M318.2 408.8h0M318.7 408.6h0M320.5 404.8h0M320.6 404.4h0M321.7 406.6h0M322.5 405h0M323.1 407h0M323.2 407.3h0M326.3 408.4h0M326.7 408.9h0M328.5 404h0M329.3 409.5h0M329.4 407h0M330.7 410.5h0M330.8 404.4h0M331.4 409.4h0M333.9 406.6h0M335.3 411.9h0M336.3 408.6h0M337.3 404.1h0M338.2 409.6h0M338.5 404.4h0M340.8 404.5h0M341 412h0M341.2 404.3h0M341.3 409.9h0M342.4 404.1h0M343.1 406.7h0M343.2 407.5h0M343.7 405.3h0M344.2 406.6h0M344.5 406.2h0M344.5 411.9h0M344.8 408.3h0M345.1 404.7h0M345.4 411.5h0M193.2 418.9h0M207.9 414.7h0M209.6 413.4h0M222.9 418.1h0M237.7 415.3h0M249.9 412.1h0M253 416.8h0M266.6 418.2h0M268.6 413.3h0M271.8 417.7h0M276.7 416.1h0M278.9 413.6h0M280.2 416h0M282.8 414.1h0M285.1 414.8h0M286.8 413.5h0M290.6 412.4h0M291 413.9h0M292.1 416.8h0M294.9 415.1h0M296.5 416.6h0M296.9 417.8h0M297.2 413.3h0M297.8 416.9h0M300 414.8h0M300 412.9h0M302 419h0M303.4 415.1h0M303.6 413h0M307.6 412.7h0M308.6 418.1h0M308.7 412.3h0M308.8 412.1h0M309.7 417.3h0M312.6 417.3h0M313.4 415.9h0M314.7 417.6h0M315.1 413.2h0M315.3 418.8h0M316.4 417.1h0M316.5 420h0M317.9 419.7h0M318 414.3h0M319.1 415.5h0M319.2 417.2h0M322.3 419.2h0M322.4 419.9h0M323 412.2h0M323 417.5h0M323.4 419.6h0M324.6 418.4h0M325.2 418.9h0M327.4 419.2h0M328.8 412.4h0M331.7 413.2h0M332 416.5h0M334.8 419.3h0M335 416.2h0M335.5 418.1h0M336.5 418.1h0M339 419.2h0M339.3 419.7h0M343.9 414.6h0M344.1 412.6h0M344.2 413.1h0M344.2 419.6h0M344.5 417.2h0M344.6 414.7h0M344.7 413.1h0M344.9 413.1h0M345.1 412.4h0M345.2 418.6h0M345.4 415.4h0M345.5 417.1h0M218.8 425.3h0M227.6 423.2h0M258.9 425.1h0M260.9 425.9h0M261.1 422.1h0M267.9 422.3h0M272.4 421.4h0M275.9 424.8h0M277.6 424.9h0M281.4 423.7h0M284.1 424.5h0M293.8 426.2h0M295 425.9h0M295.9 420.9h0M297 425.5h0M297.7 426h0M297.8 425h0M298 424.9h0M298.9 420h0M298.9 425.2h0M303.7 427.5h0M304.5 420.3h0M306.1 427.8h0M306.3 420.9h0M307.7 426.3h0M308.4 427.4h0M309.6 427.6h0M310.8 421.1h0M313.9 426.5h0M314.5 421h0M314.6 423.8h0M314.8 427.7h0M315.8 420.3h0M316 427.6h0M316.6 425.3h0M317.9 426.4h0M318.4 424.6h0M318.7 421h0M318.8 426.8h0M320 422.7h0M321.9 424.9h0M322.6 425.5h0M323.7 421h0M324.4 426.2h0M325.7 421.3h0M325.8 425.7h0M326.3 426.8h0M327.7 425.7h0M328.4 422.9h0M328.7 422.4h0M330.3 427.8h0M330.5 421.5h0M330.8 421h0M332 420.8h0M332.4 420.2h0M333 420.4h0M333.3 424h0M333.7 424.1h0M335.6 422.9h0M335.8 427.4h0M336.5 427.5h0M338.3 420.1h0M338.9 422.2h0M339.2 427.5h0M339.8 424.2h0M340 421h0M340.9 425.4h0M341.7 424.6h0M342.1 420.9h0M342.4 427.7h0M344.1 421.6h0M344.3 426.1h0M344.6 427.9h0M344.8 426.1h0M113 428.8h0M138.6 433.4h0M144.3 430.7h0M162.7 435.8h0M187.8 429.8h0M220.8 434.2h0M248.6 430.8h0M270.3 433.8h0M272.1 430.2h0M272.5 428.9h0M272.6 430.9h0M277.5 432.6h0M277.6 431.7h0M279.3 429h0M284.4 433.3h0M285.1 429.8h0M287.4 435.4h0M288.8 433.1h0M289.7 435.1h0M293 430h0M294.7 434.6h0M297.9 429.1h0M297.9 428.8h0M298.2 433.2h0M298.2 429h0M301.8 435h0M301.9 431.7h0M303.9 432.9h0M304.6 435.2h0M306.8 435h0M307.4 434.1h0M308.2 433h0M314.2 432.2h0M314.5 431.3h0M314.9 435.2h0M315.2 430.5h0M317.9 434.2h0M319.5 435.3h0M320.4 434h0M322.6 429.9h0M322.6 429.6h0M323.9 432.3h0M324 435.3h0M326.7 432.4h0M328.3 430.6h0M328.4 433.5h0M329.9 432.6h0M332.2 429.6h0M332.3 430.6h0M332.5 430h0M333.2 431.2h0M333.4 434.9h0M333.5 434.5h0M334.2 433.9h0M334.4 435.3h0M334.8 435.2h0M337.8 432.4h0M339.1 433.1h0M339.3 433.6h0M339.4 428.3h0M339.5 434h0M340.1 432.8h0M340.5 435.1h0M341.4 435.7h0M341.8 434.9h0M343.4 435.6h0M344 428.5h0M344.2 433.5h0M345.1 435.4h0M345.4 432.1h0M139.6 442.1h0M167.6 438.9h0M179.5 437.4h0M214.2 441.3h0M228.3 438h0M233.8 436.1h0M235.2 438.7h0M245 443h0M246.4 441.7h0M247.3 440.1h0M250.8 443.9h0M253.9 441.3h0M255.3 441.5h0M258 440.5h0M259.2 436.7h0M261.5 439.4h0M264.5 438.6h0M268.5 438.8h0M271.1 444h0M276.9 442.5h0M277.3 436.2h0M281.5 442.6h0M283.8 436.8h0M286 439.5h0M287.8 436.9h0M293.8 439.2h0M293.9 442.4h0M294.3 440.8h0M295.8 438.3h0M296 437.1h0M296.3 443.9h0M297 440.7h0M298.1 437.7h0M298.4 442.9h0M298.5 441.8h0M301.3 440.5h0M303.5 440.8h0M303.8 438.7h0M303.8 439.7h0M306.3 438.9h0M306.4 436.5h0M306.9 440.7h0M309.8 441.9h0M310.7 440.5h0M311.9 440.1h0M313.4 439.8h0M313.6 440.5h0M315.9 438.7h0M318.7 443.3h0M319.2 438.2h0M320.1 439.8h0M320.7 441.7h0M320.8 440.7h0M321.1 443.9h0M321.2 442.2h0M322.4 443.1h0M325 437h0M326.7 439.2h0M328.9 441.7h0M332.4 443h0M332.4 442.9h0M332.7 442h0M333 444h0M333.1 439h0M333.2 436.4h0M334.7 443.2h0M336.1 438.8h0M336.3 438.3h0M337.6 438h0M337.8 439.6h0M338.9 436.2h0M339.3 438.1h0M339.5 440.2h0M339.5 441.7h0M340.3 442.3h0M340.5 438.1h0M341.7 442.9h0M342.8 441.7h0M342.9 439.6h0M343.4 440.6h0M344.2 441.5h0M344.2 439.5h0M345.1 438.4h0M345.1 442.9h0M112.2 445.7h0M152.2 450.5h0M177.4 444.2h0M178.5 449.2h0M184.5 447.3h0M192.1 446.8h0M221.7 445h0M225.3 450.4h0M276.7 447.1h0M277.1 451.1h0M279.3 446.6h0M282.9 448.7h0M287.8 450.5h0M292.4 444.4h0M295.5 451.9h0M297.3 445.5h0M298.7 444.5h0M299.5 446.1h0M301.4 448.3h0M302 445.2h0M303.7 448.5h0M304.6 446.2h0M305.5 448.9h0M307.1 445.9h0M307.1 448.2h0M307.5 451.2h0M307.6 445.3h0M309.8 447.2h0M311.1 448.6h0M312 448.9h0M312.1 448.1h0M313.5 448h0M313.8 445.6h0M315.7 450.4h0M318.6 448h0M318.6 450.7h0M320.2 448h0M320.7 444.8h0M321.7 445h0M323.2 449.2h0M324.5 445.1h0M326.6 449.1h0M326.7 450.9h0M326.7 451.1h0M326.9 445.7h0M327.8 448.6h0M328.6 446.6h0M330.6 450.6h0M330.9 450.2h0M331 445.6h0M331.1 449.3h0M332.4 444.5h0M333.4 447.1h0M333.8 444.2h0M333.9 451.7h0M335.2 447.3h0M336.7 445.1h0M337.7 448.7h0M339.6 447.8h0M339.9 450h0M341.7 444.3h0M343.4 450.5h0M343.9 449.7h0M344 451.5h0M344 447.3h0M344.1 445.5h0M344.3 444.7h0M344.3 448.8h0M344.4 449.6h0M344.4 450h0M344.6 445.3h0M345 448.3h0M345.1 447.1h0M176.5 455.5h0M216.1 458.4h0M239.7 452.1h0M245.7 458h0M251.4 459.2h0M258.4 459.4h0M272.5 454.1h0M277.7 456.6h0M281 456.7h0M281.2 459.9h0M288.7 457.1h0M291.3 456.9h0M294.2 452.9h0M294.5 455.9h0M294.6 454.6h0M296 454.9h0M299.8 455.4h0M300.7 457.4h0M302.1 458.6h0M302.7 453.9h0M302.8 453.1h0M302.9 453.4h0M302.9 457.4h0M303.2 458.3h0M304.2 453.3h0M305.3 452.9h0M306.2 458.8h0M306.5 454.7h0M308.9 457.1h0M310.8 456.7h0M311.4 457.9h0M313.5 452.4h0M314.7 455.1h0M315.5 454h0M315.6 458.4h0M316.3 455.6h0M316.8 455.9h0M317.4 457.8h0M320.5 455.4h0M320.8 455.2h0M321.3 456.8h0M322.7 457.3h0M323.1 452.1h0M324.2 458.4h0M324.5 459.6h0M324.9 459.3h0M326.6 456.7h0M327.6 452.8h0M328.5 454.2h0M329.9 458.5h0M330.8 459.1h0M331 452.1h0M331.6 459.7h0M331.6 455.9h0M332 456.5h0M332 457.4h0M332.1 458.7h0M332.7 459.2h0M332.8 458.1h0M333.7 457h0M333.9 455.4h0M336.8 458.7h0M337.1 453.5h0M337.2 456.4h0M337.4 456.8h0M337.4 455.4h0M337.4 457.7h0M338 458h0M339.3 459.8h0M341.3 457.9h0M344.4 459.1h0M345.1 455.4h0M345.1 459.8h0M345.3 457.6h0M345.4 457.1h0M345.5 456h0M192.2 463.9h0M212 463.1h0M240.2 465.4h0M254.6 462.3h0M258.8 464.4h0M265.4 460.8h0M267.9 466.5h0M269.3 467h0M270.9 460.4h0M277.2 463.5h0M289.8 460.5h0M290.7 467.1h0M294.8 463.5h0M296.2 463.8h0M299.1 463.7h0M301 464.5h0M302.1 463h0M302.9 461.7h0M303.8 462.8h0M304.9 463.9h0M306.1 462.1h0M309.8 464.6h0M312.5 464.6h0M312.9 464.3h0M313.6 462.5h0M314.4 463.6h0M314.5 467h0M314.9 460.7h0M315 467.7h0M316.2 460.4h0M317.4 465.2h0M321.7 467.3h0M325.7 463.3h0M326.1 463.2h0M326.6 461.7h0M326.7 466.4h0M327.2 463.9h0M327.5 461.5h0M331.1 461.7h0M331.7 466.5h0M332.4 466.1h0M333.7 466h0M334.6 467.6h0M337.4 466.6h0M340.2 465.4h0M341.9 466.5h0M341.9 461.6h0M342.2 460.9h0M342.6 465.2h0M343.2 463.7h0M344.3 467.2h0M344.6 460.1h0M344.7 461.3h0M345.4 462.4h0M139.2 468.3h0M163 472.2h0M256.2 469h0M257.4 472.1h0M272.9 471.7h0M274.5 468.3h0M278.4 473.3h0M280.7 471.8h0M286.9 470.6h0M288.3 474.2h0M289.8 474.3h0M291.6 470.9h0M292.4 468.2h0M296.4 470.3h0M301 472.6h0M301.7 468.8h0M303.8 472.5h0M304.3 473.6h0M307.7 475.6h0M307.9 472.9h0M311.3 474.7h0M311.7 472.8h0M313.1 469.1h0M313.9 474.8h0M314.8 472h0M318.9 473.7h0M320.4 470.2h0M321.4 472.9h0M321.5 474.2h0M324.1 472.2h0M324.1 470.4h0M324.6 469h0M324.8 468.2h0M325.9 470.9h0M326.9 471.1h0M328.7 470h0M329.2 470.7h0M330.1 473.8h0M331.4 468.9h0M334.3 475.5h0M334.5 470.4h0M336.9 473.8h0M337.3 471.2h0M338.6 473.2h0M339.3 471.2h0M340.5 472.8h0M341.1 470h0M341.3 475.3h0M342.7 470h0M343.2 471.6h0M343.7 474.5h0M344.3 474.9h0M344.3 470.6h0M344.5 471.2h0M344.7 474.5h0M344.7 469.9h0M344.9 475.7h0M345.1 475.3h0M345.3 474.6h0M112.7 482.8h0M150 482.9h0M176.7 478.8h0M236.4 476.9h0M253.5 476.4h0M265.2 480.5h0M277.6 479.8h0M278.9 477.5h0M286.4 479.7h0M294.6 482.2h0M295 478.5h0M296.8 479h0M297.5 479h0M300.4 477.3h0M301.7 476.4h0M303.1 480.9h0M303.2 483.4h0M304 482.2h0M304 483.2h0M306 481.4h0M306.1 478.1h0M306.5 483.1h0M307.1 477.5h0M307.5 481.4h0M308.3 479.6h0M309.6 478.8h0M310.7 482.3h0M315.3 483.6h0M316.6 481.9h0M316.7 481.9h0M318.1 481.8h0M318.6 478h0M318.9 483.7h0M319.3 477.3h0M319.4 477h0M321.1 478.4h0M321.6 476.2h0M321.6 482.6h0M322.5 481.3h0M323.1 476.9h0M323.2 480.1h0M324.6 481.4h0M324.8 476.1h0M324.9 479.5h0M325.1 483.7h0M325.1 480.5h0M326.9 483.7h0M327.6 481.6h0M329.1 482.2h0M330.1 479.2h0M330.8 478.8h0M334.3 479.8h0M335.6 479.5h0M336.3 479.2h0M336.5 481.2h0M337.1 483.3h0M338.5 477.2h0M338.7 477.4h0M339.1 481.2h0M339.2 479.9h0M342.3 478.1h0M343.6 481.3h0M344 479.3h0M344.1 479.5h0M344.2 476.9h0M344.3 476.7h0M344.4 477h0M344.8 483.3h0M344.9 481.5h0M345.1 479.2h0M345.1 478.9h0M345.3 480.4h0M345.3 477.7h0M162.2 486.5h0M209.9 488.2h0M239 488h0M275.5 487h0M279.9 488.2h0M281.4 486.1h0M302.2 484.8h0M306.6 485.4h0M307.4 486.9h0M311.6 485.8h0M315.1 488h0M320.6 485.6h0M321.9 488.7h0M324.3 484.5h0M327 484.6h0M327.7 487.1h0M330.4 484.2h0M331.1 484.3h0M331.2 487.8h0M332.1 485.1h0M336.4 484.9h0M337.8 485.5h0M340.4 486.5h0M344.6 488.9h0M344.6 485.3h0M345.2 484.2h0"/>
<path class="pts" stroke="#000" d="M353.8 169h0M353.1 178.2h0M353.8 172.1h0M352.9 191.9h0M353.4 192.1h0M353.6 188.2h0M352.5 196.3h0M353.1 203.3h0M354.2 202.3h0M349.9 211.6h0M353.5 209.7h0M350.6 218.2h0M351 215.2h0M351 217h0M351.1 217.6h0M351.8 213.9h0M354 218.3h0M354.6 219.5h0M349.8 223.4h0M350.9 227.6h0M354.1 223.3h0M354.6 223h0M354.9 226.6h0M354.9 225.1h0M350 235h0M352.8 234h0M353.9 229.3h0M354 233.1h0M354.2 233.1h0M355.2 233.7h0M350.8 237.2h0M351 242.4h0M351.1 236.8h0M351.3 241.7h0M351.8 239.8h0M351.9 242.2h0M351.9 242.1h0M352 239.2h0M352.2 242.3h0M352.3 242.4h0M352.3 243.8h0M352.5 236h0M352.7 239.8h0M353.4 238.2h0M353.5 243.2h0M353.7 242h0M353.8 239.4h0M354.2 238.9h0M350.2 247.8h0M350.3 250.4h0M350.4 246h0M350.7 248.2h0M351.3 246.4h0M351.5 244.5h0M352.2 251.7h0M352.3 248.5h0M352.9 247.1h0M353.8 251h0M355.1 248.5h0M349.9 253.1h0M350.7 257.4h0M350.8 258.1h0M351.3 252h0M351.5 259.4h0M351.7 252.6h0M351.9 254.3h0M353.8 259.2h0M354 259.6h0M354.5 255.2h0M349.8 267h0M350.6 265h0M351.4 263.7h0M351.9 266.9h0M352.2 267.4h0M353.1 265h0M353.3 267.5h0M353.6 265.1h0M354.1 262.7h0M354.3 262.8h0M349.8 268.3h0M351.8 271.1h0M352.2 272.7h0M352.9 273.3h0M353 275.3h0M353 272.3h0M354 275.1h0M354.1 273.8h0M355 269.1h0M350 280h0M350.7 283.4h0M351.4 283.1h0M351.7 277.2h0M351.9 281.7h0M352.1 279.4h0M353.2 276.5h0M353.2 282.5h0M353.4 282.1h0M353.5 283.3h0M354 281.6h0M354.2 280.3h0M354.6 281.8h0M354.8 281.2h0M354.9 283.4h0M349.8 288.4h0M350.1 289.3h0M350.7 286.6h0M350.7 287.4h0M351.1 291.4h0M351.9 289.7h0M352.2 291.8h0M353.9 290.7h0M353.9 285.2h0M354.2 286.6h0M350.4 295.9h0M350.7 299.2h0M350.9 294.8h0M351.4 296.8h0M351.7 298.3h0M352.1 293.1h0M353.1 294.1h0M353.2 298.9h0M354 298.6h0M354.1 293.3h0M354.8 299.9h0M350 304.9h0M350.3 304.6h0M351.7 305.6h0M351.7 306.7h0M351.9 300.9h0M352.1 302.9h0M352.4 302.7h0M352.6 305h0M353.3 300.4h0M353.7 300.7h0M353.8 302.2h0M354.1 303.7h0M354.1 305h0M354.2 304.3h0M354.4 304.1h0M354.5 305.1h0M354.7 300.3h0M354.7 307.7h0M354.8 306.6h0M350.5 313.7h0M350.7 312h0M350.7 314.2h0M350.8 311.9h0M350.9 315.5h0M351.1 308h0M351.1 309.1h0M352.3 310.3h0M353.6 313.8h0M353.6 310.3h0M354.5 310.5h0M354.6 310.1h0M351.2 319.1h0M351.7 322.2h0M351.8 316.2h0M352.1 320.3h0M353 318.2h0M353 322.1h0M353.2 318h0M353.2 318.2h0M353.2 316.3h0M353.6 320.3h0M354.1 322.3h0M350.6 328.3h0M350.8 326h0M350.8 330.7h0M351 330.4h0M351.3 328.4h0M351.5 326.3h0M351.6 329h0M351.6 331.7h0M351.6 324h0M351.7 329.9h0M352.2 331.9h0M352.2 331.4h0M352.5 331.8h0M352.6 331.9h0M353.5 330.8h0M353.7 329.6h0M353.9 331.6h0M354.6 329.3h0M350.8 338.6h0M351 334.7h0M351.4 339.6h0M351.4 338.4h0M352.7 335.4h0M352.8 338.2h0M353 336.5h0M353.4 339.6h0M353.5 336.5h0M353.8 332.9h0M354.6 338.2h0M354.7 338.3h0M354.7 333.8h0M351 340.4h0M351.2 346.1h0M351.3 340.2h0M351.3 347.6h0M351.5 346.8h0M351.9 341.9h0M352.1 346.8h0M352.4 346.1h0M352.6 347h0M352.7 345.2h0M353.1 340.8h0M353.2 342.4h0M353.2 345h0M353.3 340.3h0M353.7 340.7h0M354 340.6h0M354.4 342.5h0M354.6 346.3h0M354.7 342.3h0M351.1 348.8h0M351.2 350.4h0M351.7 349.8h0M352 350.8h0M352.1 349.1h0M352.1 355.4h0M352.3 354.8h0M352.6 353h0M353.5 348.4h0M354.1 352.5h0M354.2 351.6h0M354.4 354.5h0M354.7 355h0M351.7 359.2h0M351.8 356.2h0M352 359.2h0M352 356.6h0M352.1 356.9h0M352.1 358.6h0M352.2 356.2h0M353 357.7h0M353.3 357.2h0M353.5 361.7h0M353.9 357.3h0M354.1 362.8h0M354.3 363.8h0M351.2 370.8h0M351.4 365.3h0M351.9 365.7h0M352 366.5h0M352.2 365.3h0M352.4 368.5h0M352.8 371.1h0M353 368.8h0M353.2 369.7h0M353.2 368.4h0M353.3 366.1h0M353.5 367.3h0M353.6 368.9h0M353.8 371.6h0M353.9 369.4h0M354.1 370.9h0M354.3 364.6h0M354.6 370.8h0M351.9 374.9h0M352.6 374.9h0M352.9 374.7h0M352.9 378.9h0M353.6 373.9h0M353.7 372.3h0M353.7 377.9h0M351.6 386.3h0M351.7 381.2h0M351.9 383.6h0M353 383.7h0M353.1 381.9h0M353.7 381.9h0M354.3 387.3h0M351.2 395.1h0M351.3 394.5h0M351.4 391.4h0M351.5 391.8h0M351.6 391.3h0M351.6 392.2h0M351.7 395.2h0M352.1 389h0M352.2 389.7h0M352.4 395.9h0M352.5 389.9h0M352.6 390.8h0M352.7 389.3h0M353.2 390.1h0M353.7 388h0M353.9 389.6h0M354.2 388.7h0M354.3 389.7h0M354.4 388.9h0M351.2 398h0M351.2 398.1h0M351.3 397h0M351.3 400.8h0M351.9 396.9h0M353.2 396.4h0M353.5 401.2h0M354 402.9h0M354.5 400.1h0M351.2 407.7h0M351.4 404.6h0M351.6 406.2h0M351.7 405.7h0M352.2 411.7h0M353.2 404.7h0M353.4 404h0M353.6 411.7h0M353.7 410.6h0M353.7 409.8h0M353.9 410.5h0M354.1 410.9h0M354.6 406.6h0M354.6 404.4h0M351.9 414.5h0M352 413.7h0M352.1 417.3h0M352.2 416.9h0M352.6 413.8h0M353 412.9h0M354.5 415h0M351.6 422.1h0M351.8 425.2h0M351.8 426.3h0M352.3 420.4h0M352.9 427.8h0M353.3 422.8h0M353.7 421.1h0M353.8 425.7h0M353.9 424.3h0M354.2 426.2h0M354.3 427.8h0M354.3 425h0M354.5 427.7h0M351.4 431.1h0M351.6 428.4h0M351.8 430.9h0M352.3 432.6h0M352.4 430.8h0M353.3 435.6h0M353.3 434.6h0M354 431.9h0M354.4 435.5h0M351.6 439.9h0M351.6 440.6h0M351.7 442.7h0M351.8 437.3h0M352 440.9h0M352.3 443.5h0M352.9 438.1h0M353.1 436.4h0M354 439.1h0M354.4 439h0M354.6 440.5h0M351.4 451.7h0M351.6 448.1h0M351.9 445.5h0M352 449.1h0M352 444.3h0M352.4 451.1h0M353.2 447.5h0M353.4 449.8h0M353.5 444.2h0M353.5 451.9h0M353.6 444.5h0M353.8 447.4h0M354 451.4h0M354.1 450h0M354.2 444.7h0M351.8 456.4h0M352.2 452.3h0M352.7 457.8h0M353.3 458.9h0M353.6 455.7h0M353.8 453.3h0M354 458.5h0M354.5 454.8h0M354.6 452.7h0M351.4 466.8h0M351.7 461.2h0M351.8 466.2h0M352.1 462.3h0M352.4 463.2h0M352.5 462.3h0M352.6 463.3h0M353.1 466.4h0M353.8 466.2h0M353.8 467.8h0M354 463.1h0M354.1 465.3h0M354.1 460.2h0M354.4 462.6h0M352 468.6h0M352.1 470.4h0M352.1 473.6h0M352.4 471.9h0M352.5 471h0M352.6 469.4h0M352.7 469.9h0M353.6 472.2h0M353.7 475.4h0M353.8 475.5h0M353.9 473.6h0M353.9 474h0M354 470.5h0M354.2 468.2h0M351.5 478.5h0M353.1 480.4h0M353.1 477.7h0M353.2 481.7h0M353.5 481.7h0M353.7 480.3h0M353.8 481.9h0M354.1 482.5h0M185 488.2h0M218.5 489h0M223.5 487.8h0M277.5 488.2h0M299 489.5h0M314.4 491.4h0M334.9 491.4h0M347.5 491.5h0M351.2 489.7h0M351.4 489.4h0M351.8 484.6h0M351.9 486.8h0M352.6 489.9h0M352.6 491.9h0M353.8 485.4h0M353.9 490.3h0M353.9 490.7h0M354.4 489h0M356.1 491.4h0M360.1 491.9h0M363.8 491.6h0M363.8 491.8h0M364.8 491.1h0M381.4 491.6h0M383.2 491.2h0M386.4 491.5h0M393.7 491.8h0M400.6 491.1h0M409.3 491.6h0M415.9 491.2h0M416.6 491.2h0M426 491.5h0M436.8 491.3h0M467.2 491.9h0M499.7 491.4h0M568.9 491.6h0M107.5 496.5h0M129 495.5h0M273.5 493h0M288.5 497.5h0M296 499h0M304.5 493.3h0M306.2 493.2h0M310.8 498h0M317.4 495.4h0M320.4 499.3h0M320.8 497.1h0M321.2 498.2h0M325.4 495.1h0M326.2 497.2h0M330.2 492.1h0M332.7 492.4h0M334.2 494.4h0M334.2 492.4h0M334.6 498.3h0M334.7 494.9h0M336.2 498.9h0M336.2 499.3h0M342 493.1h0M344.5 498h0M344.6 498h0M345 495.7h0M345.6 493.7h0M345.6 495.1h0M347.1 499.9h0M348.1 498.6h0M348.4 493.2h0M349.4 493.5h0M349.7 495.4h0M350.2 496.6h0M350.2 496.1h0M350.6 498.1h0M350.7 498.2h0M351.4 496h0M351.8 499.5h0M352.2 496.6h0M352.3 494.3h0M352.4 492.9h0M353 499.6h0M353.3 493.4h0M353.8 496h0M354 494.3h0M354 493.2h0M354.2 492.9h0M354.4 493.1h0M354.7 497.1h0M355.2 499.5h0M355.4 499.9h0M356 494.2h0M356.1 494h0M356.6 496.6h0M356.6 494.8h0M356.6 498.3h0M357.5 496.1h0M357.7 493.5h0M358.1 494.3h0M358.1 494h0M358.1 499.5h0M360.4 492.5h0M360.7 492.8h0M360.7 495.7h0M361.4 499.6h0M361.7 493.6h0M361.9 492h0M362.6 492.2h0M363 492.4h0M364 495.4h0M364.2 496.7h0M364.4 496.5h0M364.5 499.8h0M365.1 493.9h0M365.5 499.3h0M365.9 499.3h0M366.1 498.1h0M366.4 497.5h0M366.5 494.9h0M366.9 497.5h0M367.3 499h0M367.9 492.7h0M368.1 497.6h0M368.1 494.5h0M368.2 494.9h0M368.6 495.5h0M368.6 498.8h0M369.7 492.6h0M369.9 496.1h0M370 499.5h0M370.1 496.4h0M370.5 493h0M370.6 496.3h0M371.8 493.4h0M376.1 496.5h0M376.2 498.7h0M377 497.5h0M377.9 494.1h0M378.3 498h0M378.4 499.3h0M379.2 498.2h0M379.7 499.9h0M380 498.3h0M381.2 499.8h0M381.6 498.1h0M381.7 499.4h0M383 494.6h0M383.1 496.2h0M383.4 493.2h0M383.5 497.8h0M384 494h0M384.4 497.3h0M384.7 492.7h0M385 492.9h0M385.8 496.4h0M386.9 492.2h0M387.2 497.9h0M387.5 493.5h0M387.6 496h0M387.9 497.6h0M388 498.4h0M388.2 492.8h0M391 494h0M392.1 493.8h0M392.1 494.1h0M392.2 494.7h0M393.2 496.9h0M393.5 494.1h0M393.8 493.9h0M394.4 498h0M394.5 497.5h0M394.8 495.9h0M395 499.6h0M396.1 492.8h0M397.2 494.4h0M397.7 494.9h0M398.1 493.9h0M398.2 492.6h0M399 496.1h0M399.2 492.8h0M399.3 497.5h0M399.4 497.8h0M400.5 498.1h0M401.2 498h0M402 495.3h0M402.1 493h0M402.3 497.1h0M403.3 498.2h0M403.5 495.6h0M405.1 497h0M405.9 493.3h0M406 494.2h0M407.4 494.3h0M407.7 494.1h0M408.9 497.1h0M410.2 498.1h0M410.4 493h0M411.5 495.2h0M411.8 498.9h0M412.2 493.1h0M414 496.5h0M414.4 498.6h0M416.7 492.2h0M417.8 493.5h0M419.1 499.2h0M419.2 495.6h0M421.6 499.9h0M422.2 494h0M422.3 492.1h0M423.1 499.3h0M428.3 499.4h0M428.5 499.4h0M429.5 493.6h0M430 492h0M430.7 495.2h0M442.8 493.2h0M444.2 494.1h0M445 497.1h0M447 495.5h0M448.2 493.1h0M450.9 493.4h0M452.2 498.9h0M452.4 496.1h0M458.7 495.7h0M461.9 494h0M462.9 496.7h0M465 495.3h0M467.5 498h0M470.5 497.3h0M472.1 497.1h0M473.5 494.8h0M479.5 499.5h0M488 495.4h0M491.8 494.7h0M511.6 498.2h0M511.7 492.5h0M516.3 494.6h0M526 492.9h0M538.1 494.2h0M538.3 492.2h0M542.8 498.7h0M564.7 492.4h0M566.3 496h0M566.5 492.1h0M571 493.7h0M578.1 494.7h0M586.1 493.3h0M586.9 498.1h0M597.9 495.4h0M306.5 501.2h0M313.4 500.1h0M334.9 500.6h0M341.3 501.4h0M341.5 501.1h0M351.6 502h0M355.4 500.9h0M357.6 500.6h0M359.6 500.7h0M361 500.2h0M363.4 501.3h0M366.6 501.5h0M366.6 501.6h0M371.9 501.9h0M371.9 501.6h0M378.4 501.3h0M379.5 501.5h0M382.2 500.2h0M383.6 501.7h0M385.4 500.7h0M386.8 501.2h0M387.9 500.7h0M392.8 501.8h0M393.3 501.9h0M394.1 500.4h0M397.1 501.3h0M399.2 501.5h0M400.4 500.7h0M400.6 501.2h0M400.6 501.2h0M403.2 501.4h0M413 501h0M414.5 500.9h0M428.7 501.1h0M433.2 500.9h0M437.2 501.7h0M438 500.9h0M445.2 500.4h0M469.7 501.2h0"/>
<path class="pts" stroke="#fb0000" d="M361.7 149.2h0M365.4 151.5h0M365.8 152.7h0M371.4 150.6h0M372.6 149.3h0M374.5 155.7h0M376.2 155.2h0M376.4 149.7h0M379.1 150.1h0M381.8 152.8h0M391.1 152.5h0M391.3 150.6h0M393.8 153h0M395.5 150.7h0M395.6 150.3h0M400.3 149.2h0M405.5 151.1h0M409.1 155.3h0M412.3 151h0M416.1 151.7h0M418.1 155.3h0M420.5 148.4h0M423.5 154.6h0M444.9 150.5h0M451.2 152.3h0M497 150.7h0M517.3 150h0M520.2 152.6h0M536.5 155.8h0M558.4 153h0M361.5 163h0M361.9 161.5h0M362.1 159.6h0M362.1 156.4h0M364.6 162.1h0M364.9 160.6h0M369.6 159.8h0M370.1 157.6h0M370.8 160.9h0M372.5 156.8h0M374.3 157.5h0M377.3 162h0M377.4 157.1h0M379.3 158.4h0M384.4 157.5h0M387.9 156.9h0M388.7 159.1h0M390.8 159.4h0M392.5 163.7h0M392.6 161.7h0M403.9 162.3h0M407.3 163.8h0M411.3 162.2h0M412.6 159h0M415.9 156.6h0M418.1 157.5h0M483.9 158h0M498.2 158.9h0M361.7 169h0M361.9 169.1h0M365.8 171.5h0M366.6 171.5h0M368.2 171.3h0M368.5 164.2h0M369.7 168.2h0M370.8 167.9h0M376.6 169.1h0M379.7 171.1h0M380.4 167.8h0M380.4 170.6h0M383.2 170.4h0M386.5 167.1h0M386.8 170.3h0M392.2 164.8h0M394.8 164.8h0M395.2 168.9h0M399.4 168.8h0M399.5 167.6h0M400.6 166.9h0M402.5 168.9h0M406.3 167h0M407.1 170h0M407.6 172h0M409.6 169.9h0M410.5 166.4h0M421.1 169.3h0M435.1 166.8h0M451.4 171.6h0M476.5 168.6h0M488.4 169.6h0M498.7 165.5h0M519.7 166.8h0M524 167.9h0M531 167.1h0M362.8 177.2h0M368.4 173.9h0M368.8 172.6h0M369.8 172.1h0M371.3 179h0M371.3 179.9h0M374.5 175h0M375.3 179.6h0M384.4 176.9h0M385.8 173.4h0M387.8 176.6h0M388.7 179.7h0M389.5 177.2h0M389.6 179.6h0M390.7 179.4h0M395.7 174.6h0M398.5 178.4h0M402.5 178.4h0M408.3 173h0M408.3 173.7h0M422.9 177.4h0M432 177h0M434.2 173.3h0M488.1 179.2h0M489.1 172.2h0M494.9 174.9h0M534.5 178.2h0M581.1 176.3h0M362.2 187.5h0M363.1 186.1h0M366 180.3h0M366.3 182.1h0M368 182.6h0M371.6 184h0M373.3 186.6h0M373.5 180.6h0M376.9 185.6h0M377.7 187h0M378.7 186.8h0M384.7 181.4h0M390.8 183h0M393.5 186.2h0M393.8 185.1h0M394.6 184h0M397.3 184.4h0M400.1 182.1h0M400.9 180.8h0M400.9 186.7h0M407.7 182.2h0M415.1 181.4h0M417.2 180.1h0M421.3 180.8h0M435.1 186h0M458 181.1h0M536.4 182.9h0M559.9 181.5h0M361.8 193.8h0M362.2 191.1h0M362.5 194.4h0M362.9 191.4h0M363.1 195.2h0M365.2 188.9h0M366.3 191.9h0M366.3 189h0M369.7 194.8h0M369.9 190.2h0M373.3 191.3h0M373.5 190.9h0M378.8 192.1h0M380.7 196h0M385.1 193h0M389.7 191.7h0M390.5 196h0M391.8 189.3h0M393.2 194h0M409.9 189h0M422.3 188.4h0M423.8 192.5h0M435.4 191.4h0M441.8 191.6h0M447.7 191.3h0M460.7 195.9h0M463.2 195.3h0M472.9 195.5h0M476.1 191.7h0M497.5 194.6h0M591.7 194.9h0M361.4 200.3h0M361.5 202.1h0M362.4 197.4h0M362.5 202.8h0M365.5 200.5h0M365.7 203h0M366.5 196.2h0M367.3 196.4h0M367.4 203.4h0M370.3 199.4h0M370.8 200.4h0M371.2 196.2h0M371.9 201.2h0M372.1 201.8h0M375.8 200.2h0M376 203.9h0M376.9 202.9h0M379.8 197.1h0M380.5 199.8h0M383 196.4h0M383.6 197.6h0M387.3 203.6h0M387.6 202.8h0M388.5 203.3h0M390 202.6h0M392.5 198.9h0M397.2 201.9h0M401.9 199.2h0M403.6 203.3h0M408.7 196.1h0M410.5 204h0M415.1 200.3h0M418.1 201h0M419.6 203.7h0M421 203.2h0M423.8 196.5h0M425.7 201.3h0M429.8 202.3h0M434.6 199.1h0M439.9 202.7h0M443.2 200.8h0M453.1 196.2h0M487.3 203.4h0M507.8 202.2h0M533.4 199h0M361.2 210.7h0M361.3 209h0M361.4 204.8h0M362.9 205.4h0M365 205.7h0M367.1 208.5h0M368.7 207.1h0M373.2 205h0M376.4 209.7h0M376.9 210.7h0M377 208.2h0M379 205h0M384.8 211.9h0M385.9 205.9h0M388 210.1h0M389.9 208.4h0M392.9 211.3h0M393.4 206.3h0M395.4 212h0M399.3 205.9h0M404.4 206.2h0M404.6 205.5h0M409.1 206.9h0M409.9 204.5h0M412.1 206.4h0M417.2 207.3h0M421.6 206.5h0M422.5 211.9h0M422.7 210.3h0M426.9 205.2h0M429.1 206.9h0M429.8 210.1h0M458.4 208h0M464.6 209.6h0M489.7 211.3h0M570.8 211.4h0M361.6 218.5h0M361.6 216.3h0M363.2 214.5h0M366 212.1h0M366.2 213h0M366.9 217.1h0M368.7 217.8h0M371.4 217.5h0M371.8 213.4h0M373 215.5h0M373.9 219.6h0M378.8 212.7h0M381 215.3h0M381.2 219.5h0M391.7 217.4h0M408.9 215.5h0M412.8 214.4h0M421.5 215.8h0M426.2 216.9h0M431.4 217.2h0M433.3 219.6h0M435 215.6h0M435.6 213.7h0M437.4 219.7h0M439.6 217.6h0M443.2 214.5h0M444.2 218.3h0M446.1 213.2h0M457 217.5h0M469.1 215.2h0M480.5 212.3h0M496.9 219h0M538.1 215.6h0M361.4 220.5h0M361.5 222.4h0M362.1 223.6h0M362.3 221.2h0M362.7 221.2h0M363 224.7h0M364.5 222.9h0M371.1 226.2h0M371.2 225.7h0M373.4 221.1h0M374.3 223.3h0M375.5 220.5h0M376.5 225.9h0M377.3 223.4h0M383.4 221.3h0M383.7 222.2h0M384.2 222.9h0M385.1 220.4h0M385.7 227.9h0M386.1 222.2h0M391.3 225.7h0M392.5 223.5h0M393.6 227.4h0M399 223.9h0M402.4 222.8h0M403.3 221h0M410.3 221.3h0M411.8 220.7h0M414.8 223.7h0M431.6 220.9h0M435.1 222h0M436.7 225.9h0M459.6 220.2h0M470.2 226.5h0M482.5 224.4h0M499.5 221.1h0M501.6 227.2h0M515.3 224h0M523.8 227.8h0M563.1 222.5h0M362.1 232h0M362.7 228.4h0M365 231.8h0M366.1 230.1h0M368.5 233.2h0M370 229.7h0M370.1 233.4h0M372.4 233.7h0M374.6 232.6h0M378.2 235.6h0M379.1 231.8h0M379.5 231.6h0M382.9 231.5h0M384.1 228.7h0M384.6 233.5h0M391.4 230.9h0M392.7 230.8h0M393.4 235.8h0M394.2 232.8h0M394.9 233.5h0M396.7 233.4h0M396.8 232.1h0M401.7 231.5h0M408.2 228.4h0M412.5 230.4h0M414.2 232.1h0M418.8 228.2h0M423.8 234.6h0M438.2 231.5h0M445.3 235h0M447.6 234.4h0M449.2 229.7h0M451 232.7h0M485.1 235.6h0M487.7 232.5h0M503.7 231h0M511.8 228.2h0M518.7 232.6h0M548.7 234.1h0M600.5 232.4h0M361.7 237.2h0M361.8 238.1h0M361.8 242.4h0M361.9 238.1h0M362 241.6h0M362.2 241.8h0M362.4 240.1h0M362.6 237.2h0M362.7 239.6h0M362.7 241.7h0M363.2 243.5h0M364 237.6h0M364.7 242.4h0M365.5 237h0M365.8 239.3h0M370.4 236.1h0M372.1 237.8h0M376.9 236.1h0M377.1 236.5h0M378.4 243h0M383 237.2h0M384.1 239h0M385 238.5h0M386.6 237.2h0M387.1 243h0M387.6 240.9h0M389.1 242.4h0M391.7 238.1h0M394.1 237.5h0M396.9 236.1h0M398.1 239.7h0M401.9 241.2h0M402.3 242.5h0M403.2 236.5h0M408.7 237h0M418.3 241.3h0M421.6 237.7h0M421.9 237.7h0M422 239.8h0M427.8 237.3h0M429.3 241.8h0M435.5 242.1h0M441.7 238.1h0M502 238.7h0M554.3 241.3h0M557.3 239.7h0M591.8 239.1h0M361.5 246.8h0M361.6 251.1h0M361.6 248.2h0M362.6 249h0M362.8 246.4h0M366.2 249h0M367.1 248.7h0M368.2 248.7h0M368.2 244.3h0M368.5 247.7h0M371.8 245.3h0M373 244.7h0M374.6 246.7h0M375.2 250.6h0M377.6 249.8h0M379.5 246.7h0M379.7 246.2h0M381.6 249.7h0M383.1 248.2h0M384.2 248.4h0M386.7 244h0M387.4 245.5h0M387.8 251.3h0M390.6 244.8h0M394.7 249.3h0M395.5 251h0M401.7 250.7h0M404.6 248.7h0M408 248.6h0M410.8 249.2h0M414 244.7h0M416 245.4h0M416.5 244.9h0M421.2 250.9h0M423.7 251.1h0M430.8 249.7h0M435.8 250.3h0M476.4 250.7h0M490.5 248h0M507.8 249.5h0M531.5 245.4h0M536.1 249.9h0M361.4 255.4h0M361.9 254h0M362.1 256.6h0M362.6 259.3h0M364.3 257.3h0M364.6 255.6h0M364.7 259.4h0M365.8 258.8h0M367.8 258.1h0M369.4 256.2h0M371.7 259.9h0M374.7 257.2h0M375.4 255.3h0M378.3 259h0M381.7 256.3h0M382.2 253.5h0M388.4 258.1h0M389.1 253.3h0M390 252.6h0M390.8 257.7h0M391 252.9h0M391.5 258.8h0M391.7 257.8h0M392.1 254.3h0M392.8 256.2h0M394.1 256.8h0M396.1 257.1h0M398.8 255.1h0M399.3 259.3h0M411.4 257.3h0M412.4 256.6h0M427.2 253.6h0M431.6 256.6h0M433.2 258.3h0M434.5 252.5h0M439.6 252.1h0M440.8 252.3h0M446.6 255.7h0M465 254.4h0M480.2 253.2h0M491.9 254.2h0M501.6 257.4h0M502.7 256h0M530.3 258.4h0M535.6 257.3h0M542.7 254.7h0M361.3 261.5h0M361.5 267.3h0M362.2 262.6h0M362.2 265.9h0M362.3 264h0M362.5 263.1h0M363.3 265.3h0M363.3 262.8h0M365 263h0M366.6 265.5h0M366.9 266.1h0M373.5 266.7h0M374.1 262.6h0M374.4 263h0M374.7 264.9h0M378.4 263.7h0M379.5 266.6h0M379.9 263.7h0M380.2 264.2h0M381.2 264.2h0M387.9 262.9h0M390.4 267.9h0M392.6 262.3h0M394 263.6h0M399.2 261.9h0M402.3 265.6h0M402.3 263.9h0M405.9 260.6h0M410.8 266.6h0M417.6 263.1h0M422.4 267h0M423.5 262.7h0M428.7 263h0M429.8 266.2h0M430.8 266.2h0M432.9 261.5h0M439.1 267.7h0M471.1 266.8h0M480.5 261.4h0M484.8 266.7h0M494.3 261.5h0M506.4 267h0M506.6 267.3h0M512.5 262.7h0M550.4 260.6h0M586.1 263.7h0M594.2 264.8h0M602.8 264.1h0M361.5 274.4h0M361.5 268.8h0M361.5 275.9h0M361.6 275.9h0M362 273.9h0M362 271.4h0M362.7 271.5h0M364.2 273.3h0M364.3 273.4h0M364.9 273.2h0M365.7 269.8h0M366.4 270.3h0M366.7 273.2h0M366.9 272.8h0M368.9 268.8h0M373.7 275.1h0M377.3 275.9h0M377.4 268.9h0M377.9 269.3h0M381.2 268.6h0M383.1 274.5h0M384.3 270.5h0M389.3 273.1h0M392 269.9h0M395.5 270.8h0M395.6 273.8h0M398.1 268.4h0M404.3 274.4h0M407.1 274.1h0M408.6 272.9h0M409.8 270.5h0M414.6 268.8h0M418.4 268.9h0M427.3 272.9h0M429.6 269h0M430.3 270.7h0M431 269.9h0M434.7 272.3h0M442.8 269.8h0M450.5 274.4h0M460.2 273.4h0M478.7 276h0M483 269.5h0M497.8 273.8h0M529.8 273.1h0M560.2 268.1h0M362.1 282.3h0M363.8 280.8h0M364 276.4h0M365 277.7h0M367.5 278.2h0M367.7 280.6h0M367.8 282.4h0M368.5 277.3h0M368.7 278.4h0M370.9 283.6h0M372.2 281.6h0M376 278.1h0M377.5 279.4h0M377.8 280.8h0M379.5 282.1h0M382.3 282.2h0M382.9 276.4h0M384.9 277.6h0M388.9 280h0M392.1 276.2h0M392.8 277.6h0M395.5 279h0M398.5 282.8h0M408.1 279.6h0M413.4 281.3h0M416 282.1h0M417 281.7h0M418.4 282.5h0M429.7 281.2h0M436.4 281.1h0M437.1 279.1h0M440.7 283.8h0M441.9 278.1h0M442.7 278.3h0M446 280.4h0M447.7 283h0M452.3 279.1h0M469 281h0M471.2 281.6h0M472.6 283.3h0M472.8 282.9h0M472.9 279.8h0M474.5 279.7h0M476.7 276.4h0M479.7 282.1h0M489 279.8h0M493.6 278.7h0M521.9 279.5h0M561 280.2h0M361.4 285.7h0M361.4 290.4h0M361.6 286.7h0M362.3 291h0M362.7 287.1h0M362.8 291.8h0M362.9 285.7h0M364 289.5h0M364.9 289.2h0M366.2 284h0M366.9 291.6h0M366.9 285.4h0M367.4 288h0M367.9 285.2h0M368.5 288.2h0M369.6 284.4h0M370.9 290.6h0M370.9 288.1h0M376.1 289.3h0M379.7 288.9h0M389.4 289.2h0M389.7 291.3h0M390.2 288.5h0M390.7 288.5h0M390.9 286.9h0M391.7 284.6h0M393 284.3h0M393.5 286.1h0M394.8 291.4h0M397 289.7h0M397.5 288.1h0M398 285.5h0M399.5 285.5h0M400.6 289.7h0M405.2 287.9h0M412.2 289.3h0M412.7 287.1h0M415.2 286.1h0M415.9 286.5h0M418.7 289.2h0M418.8 290.2h0M422.1 288.6h0M435.3 290.6h0M440.6 289.8h0M443 289.6h0M445.4 288.8h0M446.1 284.8h0M451.2 285.1h0M453.9 291.7h0M454.6 287.6h0M456 289.8h0M484.9 285.4h0M519.3 286.3h0M553.2 286.4h0M560.5 288.3h0M361.4 299.1h0M361.6 296.5h0M362 296.1h0M362 294.7h0M362.8 293.4h0M366.2 298h0M367 294.1h0M369.9 293h0M370.2 296.9h0M370.9 298.8h0M372.1 294.5h0M373.6 299.6h0M377.5 293.7h0M378.6 295.3h0M378.7 294.9h0M380.5 299.2h0M382.6 300h0M383.6 296.1h0M386.3 294.1h0M387.8 292.7h0M389.6 295.5h0M392.1 293.5h0M395.2 295.7h0M395.4 298.7h0M395.8 292.1h0M397.3 297.3h0M401.9 299.2h0M403.9 297.3h0M405.7 295.5h0M407.6 297.3h0M409.1 292.3h0M411 293.2h0M411.3 296.4h0M412.1 295.1h0M413.6 293.6h0M414.1 292.2h0M421.9 295.7h0M424.3 300h0M428 300h0M429.3 298.7h0M430.6 298.5h0M430.7 296.6h0M430.8 298.3h0M434.5 292.6h0M435.9 297.4h0M439.4 292.6h0M440.3 292.7h0M442.5 297.5h0M443.1 299.7h0M450 292.5h0M451.9 295.4h0M454 299.6h0M463.3 297.1h0M471.8 293.3h0M503.6 295.6h0M516.9 295.7h0M595.7 294h0M361.2 303.2h0M361.3 304.8h0M362 300.4h0M362.8 306.3h0M363.6 302.1h0M363.9 301.9h0M364.8 304.7h0M365.2 304.3h0M365.5 301.9h0M365.8 304.9h0M366.1 303.6h0M366.6 304.2h0M366.8 307.3h0M368.1 304.6h0M369.2 300.3h0M369.3 305h0M369.6 302.1h0M370 306.5h0M371.6 306.2h0M373.7 306.5h0M374 305.8h0M374.2 307.8h0M374.5 300.6h0M374.5 305.2h0M375.8 301.8h0M376.4 305.8h0M378.1 307.6h0M378.2 304.9h0M383.2 307.8h0M383.3 307.3h0M383.4 307.7h0M384.1 307.6h0M384.2 300.1h0M385.5 301.7h0M387.8 306.6h0M390.5 307.1h0M390.9 306.6h0M391.1 307.2h0M391.7 307h0M396.1 306h0M397.2 304h0M398 300.9h0M398.7 304.5h0M405.5 301h0M407.3 302h0M408.4 307h0M409.4 304.8h0M410.9 303.8h0M412.2 301.7h0M414.3 304h0M415.6 302.5h0M416.6 304.3h0M422.1 303.5h0M422.4 306.4h0M427.6 300.3h0M430.6 303.9h0M431.5 304.1h0M431.7 302.9h0M435.7 302.8h0M436.5 301.6h0M443.1 307.7h0M445.1 302.8h0M450.7 301.2h0M455.3 307h0M457.1 301.5h0M459.3 303.5h0M460.3 307.8h0M461.1 304h0M465.1 306h0M465.4 300.7h0M471.2 305.2h0M500.1 306.2h0M536.7 301.9h0M559 307.3h0M560.9 307.4h0M575.7 303.1h0M597.3 303.2h0M361.4 311.6h0M361.5 311.7h0M361.8 308.9h0M361.8 308.2h0M362.4 313.9h0M362.4 315.4h0M365.2 309.4h0M366.2 311.9h0M366.9 315.2h0M369.4 313.8h0M373.6 310.6h0M375.6 312h0M377.4 311.4h0M378.2 309.9h0M378.6 314.4h0M379.4 308.9h0M381 312.9h0M381.1 315.8h0M381.2 310h0M382.3 315.7h0M382.9 308.4h0M383 312.6h0M383 309.3h0M383.8 314.5h0M385.6 311.1h0M386 314.7h0M386.9 313.1h0M389.6 308.2h0M394.8 314.5h0M394.8 315.4h0M395.6 312.6h0M398.7 314.9h0M398.8 309.2h0M402.2 309.2h0M402.7 310.5h0M404.3 310.8h0M405.5 314.6h0M405.6 311.3h0M405.9 314.9h0M409.1 315.3h0M412.6 313.7h0M412.7 312.8h0M412.9 308h0M414 309.5h0M414.3 309.6h0M415.9 315h0M418.6 308.7h0M419 309.1h0M423 310.9h0M427.7 308.5h0M429.5 311.1h0M430.4 309h0M434.6 311.8h0M443 313.9h0M457.9 308h0M459.3 315h0M478.4 313.9h0M481.9 311.5h0M481.9 311.3h0M482.5 310.3h0M486.5 315.2h0M487 308.1h0M491.3 310h0M495.2 315.5h0M498.7 315.1h0M523.5 312.1h0M361.6 317.8h0M362.1 316.4h0M362.5 320.7h0M362.7 320h0M363.2 319.6h0M363.4 319.9h0M364.8 317h0M365.4 317h0M366.4 317.5h0M367.6 317.3h0M368.8 322.8h0M373 318.2h0M373.9 318.4h0M374.1 319.6h0M374.8 317.5h0M374.9 317.4h0M375.4 323.7h0M376.1 323.1h0M376.4 318.3h0M376.9 320.7h0M377.7 317h0M378.5 322.1h0M380.9 322.4h0M382.2 316.8h0M382.9 319.8h0M383.1 316.1h0M383.9 317.1h0M384.2 318.3h0M386.6 322.3h0M387.5 319.3h0M390.9 322.3h0M391.5 319.9h0M393.2 322.2h0M394.1 320.4h0M395.3 317.2h0M397.1 317.8h0M397.7 320.3h0M397.9 316.5h0M398.9 320.4h0M399.3 321.5h0M400.1 317.4h0M402.2 322.4h0M405.9 319.4h0M406.9 323.2h0M409.8 323.2h0M410 320.7h0M410.5 320h0M411.7 319.3h0M411.7 321.2h0M414.3 322.4h0M414.8 317.2h0M417.1 322.6h0M426.9 323.5h0M436.7 316.4h0M440.3 316.1h0M446.3 318.3h0M447.1 324h0M447.3 321.5h0M448.1 319.3h0M452.2 320.1h0M472.5 321.8h0M477.3 316.1h0M485.9 322.9h0M490 318.8h0M496 318.1h0M500.2 320.7h0M501.8 317.4h0M507.2 319.5h0M509.9 320.7h0M515.9 318.2h0M522 318.3h0M523 323.6h0M527.9 321.3h0M533.7 322.8h0M561.5 316.1h0M575.8 323.5h0M590.7 318.2h0M361.3 327.4h0M361.4 324.3h0M361.9 326.8h0M362 329h0M362.3 328h0M362.5 327.5h0M362.5 325.7h0M363.3 328.8h0M364.6 326.2h0M366.3 327.8h0M366.3 328.2h0M367.3 324.1h0M368.5 331.9h0M368.9 330.8h0M369.8 327h0M370 329.4h0M372.1 330.6h0M372.6 329.5h0M374.2 329.8h0M374.6 330.8h0M375.2 329.6h0M375.9 325.9h0M376.5 330.3h0M377.5 324h0M380.7 327.2h0M381.3 327.7h0M382.6 329.8h0M382.9 326h0M383.6 331.7h0M383.6 331.6h0M385 328.5h0M386.6 324.5h0M388.9 326.6h0M390.7 326h0M391.2 325.8h0M393.5 330.4h0M393.7 326h0M396.5 330.1h0M401 325.3h0M401.5 326.8h0M402.3 331.1h0M403.7 325.1h0M405.4 330.1h0M405.4 325.8h0M407.5 329.5h0M411.2 329.5h0M415.1 328.6h0M416.7 328.9h0M417.2 325.7h0M418.9 330.2h0M419.9 329.5h0M420.4 330.9h0M425.2 327.1h0M426.9 330.7h0M427.7 329.6h0M431.9 327.1h0M432.2 331.1h0M438 330.9h0M442.5 326.2h0M458.8 327.1h0M463.6 331.3h0M467.5 324.1h0M475.2 331.8h0M475.3 325.4h0M481.8 326h0M483.9 324.7h0M485.2 324.7h0M502.6 327.4h0M506.6 330.3h0M513.9 325.2h0M515.7 331.5h0M530.5 326h0M535.2 328.1h0M361.6 339.1h0M361.6 337.6h0M362.1 335.8h0M362.1 337.2h0M362.6 334.2h0M363.7 334.8h0M364.5 338.7h0M365.2 332.7h0M365.3 337.1h0M366.5 338.8h0M367.4 336.8h0M367.6 337h0M368.1 335.7h0M368.4 332h0M369.1 337.8h0M373.3 335.1h0M373.7 333.2h0M373.8 337.6h0M375.4 337.2h0M379.2 337.9h0M379.3 332.3h0M380.1 333.4h0M380.8 332.1h0M384.6 337.8h0M384.8 334.2h0M388.6 332.4h0M388.7 336.2h0M389.3 333.4h0M389.4 339.3h0M389.5 339.5h0M390.2 332.7h0M390.2 337.3h0M396.7 336.7h0M398.4 333.9h0M400.3 339h0M404.8 338.8h0M406 332.4h0M406.9 338.8h0M409.1 336h0M410.3 334.4h0M411.7 335.3h0M413 333.7h0M413.4 337.6h0M413.5 337.9h0M416.8 336h0M417.8 338.4h0M420.3 336.9h0M421 335.7h0M426 335.8h0M426.5 336.7h0M429 333.6h0M432.6 338.7h0M434.9 337.1h0M439.1 334.6h0M452.2 333.9h0M464.5 333.7h0M464.7 336.3h0M466.6 337h0M475.5 337.4h0M484 339.3h0M493 335.7h0M493.1 336.4h0M495.9 335.6h0M497.7 332.1h0M506.2 337.3h0M506.4 333h0M506.6 336.7h0M511.3 340h0M532.9 335.3h0M361.4 340.5h0M362 341h0M362.3 343h0M362.5 340.6h0M362.7 343.7h0M362.7 342.8h0M363.2 342.7h0M363.5 345h0M364.3 342.3h0M364.7 340h0M366 340.5h0M366.1 345.2h0M366.3 340.4h0M366.7 344.8h0M369.7 346.5h0M369.9 340.3h0M370 340.4h0M372.4 345.8h0M372.8 346h0M373.1 344h0M374.6 344.6h0M379.4 342.5h0M380.1 340.3h0M380.3 345.5h0M383.3 345.7h0M384.5 345.3h0M387.4 341.6h0M389.2 346.4h0M391.5 342.1h0M392.7 344.8h0M393.7 343.4h0M393.8 344h0M395.4 343.7h0M396.3 343.4h0M397.8 343.9h0M398.5 341.4h0M398.6 340.9h0M401.6 347.2h0M402.1 343.9h0M402.2 343h0M403.5 346.9h0M403.7 341.6h0M404.5 347.9h0M404.9 340.1h0M405 347.7h0M405.1 344.3h0M406.1 344.3h0M406.3 345.6h0M407.7 347.7h0M408.5 340.9h0M408.8 340.2h0M412.3 344.5h0M413.4 341.3h0M417.5 345.6h0M418.4 347h0M419.2 341.2h0M419.6 344.7h0M420.1 342.9h0M426.9 343.7h0M430.8 341.3h0M430.9 341.2h0M433.4 344.7h0M435.9 347.4h0M437.8 341.8h0M440.3 344.8h0M440.3 347.9h0M440.8 341.1h0M448.9 347.9h0M449.2 344h0M456.4 346.3h0M457.9 346.1h0M460.5 342.5h0M467.6 347.7h0M479.3 340.7h0M480.5 345.1h0M485.2 347.8h0M488.5 348h0M494.9 341.5h0M496.3 344.3h0M496.7 346.4h0M504.6 342.5h0M511.4 347.5h0M515.2 346.1h0M525.3 345.4h0M551.1 343.4h0M556.7 343h0M577.4 345.1h0M361.8 351.8h0M362 348.4h0M362.2 351.3h0M362.4 353.5h0M362.8 352.3h0M366.4 355h0M366.5 354.2h0M367.6 350.9h0M368.3 350h0M370.2 355.3h0M373 352.3h0M373.1 352.2h0M373.8 353.1h0M375.4 350h0M375.5 355.8h0M375.6 349.6h0M376.1 350.1h0M377 352.8h0M377.4 349.9h0M378 349.2h0M378.7 353h0M379.1 351.8h0M379.5 354.5h0M381.1 353.9h0M381.5 354.3h0M382.4 355.2h0M384.2 354.2h0M385.5 348.6h0M386.7 348.8h0M387.3 350.7h0M387.4 350.1h0M388.3 355.9h0M389.7 351.7h0M393.3 353.5h0M395.4 349.6h0M396.5 349.5h0M396.6 350.1h0M396.7 352h0M400.3 350.4h0M404.3 355.1h0M404.3 352.5h0M404.5 352.7h0M405.4 352.3h0M406.2 354.7h0M407.1 353.8h0M408.1 352.5h0M409.3 352.7h0M410.6 349.1h0M412.2 354.8h0M413 351.3h0M414 350.3h0M417.2 349h0M419.4 349.7h0M420.5 354.6h0M420.8 352.1h0M422.5 349h0M425.6 351.2h0M428.2 348.4h0M429.2 351.3h0M430 355.6h0M430.9 355.5h0M432.8 355.7h0M438.2 348.7h0M439.7 352.1h0M439.8 349.4h0M440.6 348.8h0M440.6 353.5h0M446 349.7h0M447.3 348.4h0M447.5 354.8h0M449 348.4h0M449.9 349h0M455.6 348.4h0M459.2 355.9h0M463.9 355.1h0M473.1 351.1h0M477.4 355.6h0M482 353.5h0M482 352.6h0M484 348.3h0M494.1 351.3h0M495 355.8h0M500.1 354.3h0M512.7 349.5h0M514.7 349.1h0M516.1 349.3h0M521.9 353.6h0M527.7 352.7h0M532.8 353.8h0M556.2 349.2h0M568.2 348.2h0M361.5 362.8h0M361.6 362.9h0M362.6 361.2h0M362.8 357.9h0M363.8 360.4h0M363.8 359.5h0M366.4 362.4h0M366.5 358.6h0M366.5 363.5h0M367.8 360.4h0M367.8 358.1h0M367.9 361.8h0M368.3 359.4h0M368.9 363.6h0M370.9 356.5h0M372.2 359h0M372.4 357.7h0M373.6 358h0M374 363.1h0M374.4 359h0M374.4 358.1h0M374.9 362.9h0M376.3 359.1h0M376.4 359.9h0M377 360.5h0M377.3 362.4h0M378.2 362.5h0M381 359.3h0M381.1 358.6h0M381.6 358.9h0M381.7 359.9h0M383 362.5h0M383.4 357.6h0M386.3 359.4h0M387.1 359.3h0M387.9 358.2h0M390.6 360.8h0M393.8 362.1h0M394.5 357.8h0M394.9 357.5h0M395.3 361.6h0M395.9 360.9h0M396.3 361.8h0M399.5 358.5h0M400 358.8h0M400.4 357.1h0M400.6 362.9h0M402.2 363.9h0M402.3 360.1h0M404.7 363h0M406.2 356.7h0M409.4 362.6h0M412.8 361.9h0M417.3 359h0M417.5 362.2h0M418.2 358.6h0M418.6 358.2h0M419.8 362h0M420.7 363h0M421.5 363.1h0M429.9 358.2h0M434 356.3h0M435.6 356.5h0M435.8 356.3h0M437.2 357.9h0M441.5 362.6h0M442.8 363h0M444.2 363.6h0M445.2 361.8h0M445.8 361.5h0M454.6 358.8h0M456.1 356.1h0M458 363.9h0M461.9 362h0M469.8 362.7h0M472.6 359.9h0M472.9 362.3h0M473.1 357.3h0M481.7 360.2h0M482.3 363h0M497.6 359.7h0M498.6 356.5h0M502.5 356.6h0M514.5 356.8h0M530 358.6h0M564.1 358.5h0M573.9 356.2h0M575.7 356.3h0M582 360.1h0M583.8 356.3h0M589 358.4h0M361.4 368.1h0M361.7 368.5h0M361.7 369.8h0M362.1 370.3h0M362.2 368.2h0M362.4 367.6h0M362.7 365.2h0M362.9 371.3h0M364.5 366h0M364.6 365.3h0M365.2 366.3h0M365.4 370.3h0M367.4 365.1h0M367.7 369.4h0M371.7 367.7h0M373.5 368.2h0M374.3 370h0M374.4 366.4h0M375.2 369.2h0M375.5 366.6h0M377.8 368.2h0M378 366.6h0M380.9 366.4h0M383.5 368.4h0M383.9 369h0M384.1 367.5h0M384.4 364.5h0M385.7 370.8h0M387.7 369.1h0M387.9 368.5h0M388.7 371.2h0M389.5 367.1h0M391.7 371.3h0M392.8 364.8h0M394 364.4h0M397.4 367.1h0M397.7 366.6h0M399.2 371.9h0M399.7 371.1h0M399.9 369.6h0M400.1 367.3h0M400.5 369.5h0M402.4 365.7h0M403.6 368.1h0M404.9 371.3h0M405.5 368.5h0M407.3 370.2h0M409 371.2h0M409.3 367h0M413.1 365.5h0M413.1 367.1h0M414.1 371.7h0M416.3 371.6h0M420.4 364.2h0M425.2 364.7h0M425.5 367.7h0M426.9 367.5h0M426.9 366.4h0M427.5 368.9h0M428 371.6h0M430.6 364.2h0M431.2 366.7h0M432.8 366.1h0M432.8 368.2h0M434.6 370.2h0M436 371.4h0M441.5 368.8h0M447.6 370.1h0M457.7 367.3h0M457.9 368.5h0M462.9 368.6h0M467.1 370.3h0M470.7 371h0M478.1 365.4h0M502.7 368.9h0M503.4 370.6h0M507.5 370.1h0M508.6 368.2h0M509.8 364.6h0M513.2 370h0M515.8 365.2h0M519.7 370.6h0M532.7 368.2h0M535.4 366.3h0M535.6 369.3h0M539.1 369.3h0M550.3 367.4h0M555.8 365.2h0M577.8 371h0M587.3 368.6h0M361.9 378.4h0M362.3 373.3h0M362.6 373.6h0M365.3 376.1h0M366.4 374.5h0M367.1 378.9h0M367.8 377.4h0M368 377.1h0M368.2 373.9h0M368.3 373.9h0M368.5 373.8h0M368.6 374.2h0M369.4 378.4h0M369.9 373.8h0M370.3 374.4h0M371.1 378.1h0M371.2 375.8h0M371.9 372h0M374.7 372.6h0M375.5 379.6h0M377.1 375.8h0M377.3 377.5h0M378.7 379.3h0M379.3 372.1h0M380.1 374.1h0M383.1 379h0M384.6 375.8h0M384.9 375.4h0M389.2 379.8h0M391.4 379.5h0M392.3 373.4h0M392.4 377.9h0M393.1 374.1h0M398.3 378.2h0M399.3 372.6h0M399.5 379.6h0M399.6 378.1h0M400.6 378.4h0M401.3 378.6h0M401.4 379h0M403.1 373.3h0M403.5 376.6h0M405.3 372.4h0M406 374.4h0M409.4 377.6h0M409.5 375.1h0M411 376.9h0M412.1 379.1h0M413.1 373.7h0M414.6 372.7h0M418.1 379.9h0M419.5 378.2h0M420.4 372.5h0M423.8 376.2h0M426.8 372.6h0M428.9 373.3h0M431.6 377.6h0M436 372.3h0M436.6 372.5h0M436.9 374.3h0M438.9 372.4h0M442.6 377.5h0M443 376.5h0M444.9 379.4h0M446.4 377.4h0M457.4 378h0M459.8 374.7h0M464.8 374.9h0M465 378.8h0M466.4 379.7h0M470.2 373.7h0M484.7 375h0M486.2 375h0M488.2 377.8h0M497.2 375.7h0M499.6 372.6h0M499.6 374.4h0M507 375.8h0M511.9 372.6h0M516.3 372.1h0M544.9 376.8h0M547 376.2h0M572 377.4h0M575.4 377.4h0M361.7 382.3h0M361.8 380.4h0M362 383.4h0M362.6 381.2h0M362.9 382.1h0M364.4 384.6h0M365.3 386.2h0M365.3 382.1h0M366.8 384.4h0M369.5 387.9h0M369.8 380.1h0M371 380.1h0M371.4 381.2h0M371.5 381h0M371.6 380.3h0M372.1 384.9h0M372.7 382.7h0M372.8 387.1h0M373.1 382.7h0M373.8 384.6h0M375.1 384.5h0M376.2 387.6h0M376.6 383.9h0M377.8 384.6h0M379.5 386.4h0M380.2 384.4h0M380.9 381.9h0M382.3 386.6h0M382.8 384.4h0M383.5 382.2h0M384 386.9h0M384.5 387.2h0M384.5 386.9h0M386 381.2h0M390.7 387.8h0M391.5 382.3h0M396 380.2h0M396.9 380h0M397.4 385.2h0M397.9 383.2h0M398.7 383.3h0M399.6 385.4h0M401.4 381.5h0M403.5 381.9h0M404.1 381.1h0M404.6 386.4h0M405.7 387h0M410.2 386.4h0M411.9 386h0M412.1 382.2h0M413.6 382.1h0M414.5 387.8h0M416.1 386.1h0M417 382.2h0M418 381.4h0M418.5 383.8h0M419 385.3h0M419.4 382.4h0M422.4 380.5h0M423.9 384.6h0M425.1 385.4h0M426.9 382.1h0M428.4 385.2h0M434.4 385h0M438.7 380.5h0M440.2 381.4h0M448.7 381h0M451.5 385.6h0M452 385.1h0M453.2 380.9h0M455.3 384.1h0M458.1 387.7h0M463.9 383.6h0M464.4 381.9h0M473.7 381.5h0M487 383.7h0M488.9 380.8h0M491.8 387.5h0M494.8 380.1h0M494.9 387.4h0M498.2 387.3h0M498.3 386.7h0M501.5 382.4h0M523.2 380.2h0M524.8 385.2h0M530 384.8h0M564.3 386.1h0M583.9 383.3h0M361.4 393.6h0M362.5 388.9h0M365.5 393.8h0M366.3 393.2h0M367.4 390h0M367.9 389.4h0M368.1 393.5h0M369.4 392h0M369.6 389h0M370.4 394h0M371.2 395.4h0M371.7 395.4h0M372.1 394.2h0M372.3 391.8h0M372.6 395.4h0M372.9 389.1h0M374.7 395.5h0M374.8 390h0M376.2 390.9h0M376.6 390.5h0M376.7 388.9h0M378.6 388.9h0M378.6 394.9h0M379.1 388.5h0M381.5 388.4h0M382.4 390.5h0M383.3 390.5h0M385.6 394.5h0M386.1 388.1h0M387.5 390.6h0M387.7 391.6h0M389.2 390.3h0M389.5 390.9h0M390 388.4h0M390.7 391.7h0M390.8 388.6h0M391.7 388h0M391.8 389.6h0M393.9 391.9h0M394.6 393h0M395 389.4h0M395.1 393.7h0M395.5 392.7h0M395.7 391.9h0M396.6 393.6h0M398.1 390.2h0M401.8 392.4h0M402.5 394.3h0M402.7 390.1h0M404.3 391.5h0M408 394h0M408.8 391.8h0M409.6 392.2h0M410.2 394.6h0M411.2 392.9h0M416 393.3h0M419.1 388.8h0M420 388.3h0M422.1 394.8h0M426.1 394.1h0M428.7 390.4h0M430 395.8h0M431.3 391.8h0M433.3 393.9h0M436.7 394.7h0M443.2 393.2h0M444.3 391.4h0M449.3 395.2h0M451.9 392.7h0M464.1 394h0M464.7 388.7h0M467.3 391.9h0M471.1 395.3h0M475.7 395.8h0M482.5 394.8h0M487.1 395.9h0M493.1 390.2h0M493.3 391.5h0M502.6 388.1h0M507 392.2h0M509.1 395.4h0M518 389.2h0M521 388.9h0M533.9 392.6h0M537.1 391.7h0M581.9 392.6h0M361.3 401.3h0M362.2 399.9h0M362.4 398.2h0M362.7 403.5h0M363 398.9h0M363.6 399.5h0M365.4 401.5h0M369 403.1h0M370.5 398.4h0M373.2 397.2h0M373.8 398.1h0M374.3 401.6h0M374.7 399.6h0M375.3 402h0M376 397.4h0M377.5 397.3h0M379 400.5h0M379.2 399.4h0M380.5 403.8h0M381.6 397.9h0M381.7 399.3h0M383.1 403.7h0M384.6 400.7h0M385 401.5h0M385.4 396h0M385.8 400.4h0M387.7 400.1h0M387.8 403.1h0M388.4 397h0M389.4 398.1h0M389.6 401.9h0M390.8 398h0M391 402.5h0M391.4 398.6h0M391.5 403.8h0M392.4 399.7h0M392.7 398.8h0M393.2 396h0M394.1 399.2h0M394.1 396.1h0M395.9 401.8h0M396.1 402.3h0M397.6 401.1h0M400.8 398.7h0M401.1 399.5h0M406.4 400.1h0M406.5 401.1h0M410.9 401h0M412.3 401.1h0M414.8 398.7h0M414.9 400.1h0M415.4 397.4h0M417.8 396.3h0M421 402.7h0M424.1 400.5h0M426.3 399.7h0M427.2 399.8h0M428.1 403.8h0M431 397.5h0M435.3 396.9h0M436.4 398.2h0M437.1 401.8h0M438.1 397.2h0M439 397.7h0M439.4 400.1h0M441.1 399.9h0M443.2 396.1h0M446.4 400h0M446.5 398.3h0M447.2 399.1h0M449.8 399h0M450.6 398.9h0M450.6 396.7h0M477.8 398.1h0M489.1 403.1h0M491.1 400.7h0M509.8 397.9h0M515.6 400.8h0M526.2 399.9h0M530.1 398.7h0M550.7 400.4h0M560.3 402.6h0M563.7 396.4h0M565.9 400.8h0M573.8 397.2h0M588.7 396.9h0M602.1 403.4h0M361.9 411.3h0M362.2 405.9h0M362.2 406.8h0M362.4 407.6h0M362.8 409.1h0M363.2 410.1h0M363.8 404.9h0M364.2 408.4h0M364.4 407.5h0M365.8 409h0M366.3 407.5h0M367.4 411.8h0M367.7 411.6h0M369.2 407.8h0M371 404.7h0M372.3 406.8h0M373.3 408.5h0M375.9 411.9h0M377.1 411.3h0M380.1 404.9h0M380.4 405.4h0M380.6 407h0M381.6 406.5h0M386.4 407.7h0M386.6 410.6h0M388.3 408.6h0M388.6 409.9h0M395.6 405.4h0M396 406.8h0M397.9 407.8h0M400.5 411.3h0M401.8 411.3h0M402 408.9h0M404.6 410.2h0M405.9 411.1h0M409.5 407.1h0M410 408.4h0M417.3 409.1h0M423.4 406.8h0M423.6 405.2h0M426.5 411.9h0M427.7 405.8h0M428 409.8h0M431.4 405.4h0M440.3 410.7h0M441.7 410h0M442.5 404.8h0M445.8 407.1h0M449.6 409h0M454.1 405.1h0M455.2 407.2h0M455.3 410.7h0M457.1 404.9h0M457.2 409.6h0M462.3 408.3h0M463.1 406.9h0M465.1 407.8h0M465.6 404.4h0M466.4 408.9h0M470.7 407.9h0M470.8 409.9h0M474.4 411.3h0M475.4 407h0M479.3 406.3h0M481.8 411.3h0M485.4 408.3h0M498.7 410.2h0M498.7 407.6h0M500.9 405.1h0M516.5 404.9h0M518.5 407.4h0M536.4 410.1h0M559.5 409.9h0M564.2 411.4h0M568.7 409.6h0M591.3 404.1h0M361.3 417.9h0M361.4 418.2h0M361.5 417.9h0M361.8 416.9h0M361.9 414.6h0M362.4 413.7h0M362.5 419.3h0M363 416.4h0M364.3 412.9h0M365 418h0M365.8 418.9h0M368 413.3h0M369.3 417.6h0M369.7 418h0M370.1 419.9h0M370.4 414h0M371.2 414.3h0M371.3 413.7h0M371.4 417.3h0M371.8 415.9h0M372.5 412.1h0M372.5 416.6h0M373.7 419.8h0M374.5 417.2h0M374.6 418.3h0M374.9 419h0M375.4 418h0M377 417.3h0M377 412.8h0M377.8 417.2h0M378 413.1h0M378.1 418.8h0M378.4 418.3h0M378.8 418.3h0M380.4 418.7h0M385.5 412.6h0M386 415.3h0M386.3 412.5h0M386.6 412.1h0M387 412.7h0M388.9 414.9h0M390.2 413.1h0M390.7 417.2h0M390.7 414.3h0M390.7 418.7h0M391.4 418.8h0M392 415h0M392.1 418.7h0M392.1 418.2h0M392.3 418.5h0M392.6 416.8h0M394.3 417.7h0M394.4 415.7h0M395.7 419.4h0M396.6 416.1h0M397.1 417.1h0M397.8 413.9h0M398.2 413.6h0M398.4 412.5h0M398.6 412.3h0M402.1 416.8h0M402.4 417h0M404.7 419.7h0M404.8 419h0M412.2 413.2h0M413.4 414h0M413.9 418.7h0M415 412.3h0M416.3 414.6h0M416.5 419h0M417.5 417.6h0M417.5 417.5h0M425.2 412.2h0M428.4 415.8h0M428.9 418.1h0M430 414.3h0M432.1 414.6h0M432.9 416.4h0M433.4 419.3h0M433.5 415.1h0M436.1 414.6h0M436.7 412.1h0M437 414.6h0M438.1 416.6h0M440 414.8h0M441 418.2h0M443.1 415.9h0M444.7 418.4h0M444.7 413.9h0M445.7 414.2h0M445.9 417.5h0M446.4 414.8h0M447.6 415.2h0M447.9 415.5h0M448 412.7h0M448.4 412.2h0M448.7 414.1h0M452.8 418.9h0M454.7 416h0M457.3 413.8h0M458.7 416.3h0M462.9 414.4h0M464.5 418h0M464.6 416.8h0M464.9 415.1h0M471 415.7h0M471.6 414.5h0M476.9 419.8h0M478.2 415.1h0M478.7 416.1h0M482.8 414.9h0M493.5 416.4h0M496.8 416.7h0M497.5 412.5h0M520.3 414.9h0M521.1 419.4h0M523.5 414.8h0M528.7 414.4h0M549 417.5h0M591.4 419.5h0M591.8 413.1h0M361.6 421.9h0M361.7 422.3h0M362.1 421.9h0M362.6 423.3h0M362.7 424.8h0M362.8 421.6h0M366.7 422.5h0M367.8 420.4h0M370.7 420.4h0M371.7 426.6h0M371.8 423h0M373.2 425.2h0M375 425.4h0M377.6 427.7h0M378.5 424.1h0M378.6 422.4h0M382.2 423.6h0M383.2 425h0M383.6 420.9h0M385.5 426.8h0M387.4 427.2h0M388.6 427.8h0M389.4 422.3h0M389.8 422.9h0M389.9 427.9h0M390.5 420.1h0M390.9 421.1h0M390.9 426.8h0M390.9 426.8h0M391.6 426h0M391.7 423.4h0M391.8 421h0M394 424.9h0M394.4 423.9h0M395.3 425.9h0M395.3 420.3h0M395.6 427.3h0M396.2 426.2h0M396.2 426.7h0M403.1 425h0M404.2 426h0M406 425.9h0M407.7 423h0M409 421.4h0M409.2 425.7h0M410.3 421.9h0M411.9 422.1h0M412.3 424.8h0M414.5 423.6h0M417.3 423.3h0M418.9 420.6h0M419.9 424.1h0M424 427.5h0M427.4 425.7h0M427.7 425.8h0M428.2 423.6h0M430.7 421.5h0M431.1 420.3h0M433.1 423.8h0M433.7 422.4h0M437.9 427.5h0M439.1 425.7h0M439.8 421.5h0M442.5 424.9h0M444.6 425.1h0M449.3 424.9h0M450.7 424.7h0M457.3 426.8h0M462.1 424.8h0M466.8 423.7h0M474.9 423.7h0M479.3 424.7h0M481.7 424.4h0M484.2 421.3h0M506.3 425.3h0M514.2 421.7h0M534.8 424.9h0M566.3 426.4h0M597 425.8h0M361.5 432.6h0M361.8 431.2h0M361.8 429.1h0M361.9 431.7h0M362.1 433.8h0M362.3 432.7h0M362.4 435.5h0M362.6 431.5h0M362.6 431.2h0M363.3 430h0M364.3 429.3h0M365.4 431.3h0M366.4 428.5h0M367.1 434h0M368.7 428.1h0M369 429h0M369.3 428.1h0M371.3 433.2h0M371.3 434.7h0M371.9 433.6h0M372.3 429.6h0M374.2 429.4h0M374.7 432.3h0M376.9 428h0M377.1 433.1h0M378.5 429.9h0M379.7 433.6h0M381.9 434.6h0M382.4 430.8h0M382.9 428.9h0M382.9 430.2h0M383.8 433h0M384.4 432.1h0M384.7 429.5h0M387.2 432.4h0M388.5 429.8h0M388.8 432.8h0M388.8 431.3h0M390 434h0M391.9 428.8h0M391.9 430h0M392.1 428.6h0M393.4 432.1h0M394.7 433h0M395.9 433.9h0M396.2 429.6h0M396.4 430.8h0M397 428.8h0M397.2 435.2h0M398.1 433.7h0M398.7 434.8h0M398.9 431.3h0M399.2 433.4h0M400.9 428.6h0M402.2 435.3h0M404.8 434.7h0M404.8 431.9h0M405.6 430.7h0M405.9 431.6h0M408.3 429.8h0M408.7 435h0M409.6 430.8h0M412.1 434.5h0M414.3 432.7h0M415.7 435.1h0M416.5 433.7h0M417.7 430.6h0M419 431.4h0M421.6 434.7h0M426.7 434.7h0M427.2 430h0M428.9 435.5h0M429 431.2h0M431.1 432.5h0M434.1 430.4h0M437.7 435.3h0M438.2 431.4h0M442.2 435.8h0M450.2 435.1h0M454.5 431.1h0M458.2 429.6h0M464.7 434.4h0M467.7 433.9h0M467.8 434.2h0M476.8 428.4h0M477.1 429.7h0M481.9 429.5h0M483.6 428.5h0M485.7 428.4h0M490 435.9h0M498.9 431.2h0M503.4 430.8h0M516.9 429.6h0M534 431.4h0M543.9 431.2h0M544.9 434.4h0M561.1 430.9h0M361.5 441.3h0M361.8 436.7h0M362.6 437.6h0M364.7 437.2h0M364.8 443.9h0M365 438.7h0M365 441.4h0M365.7 437.3h0M366.7 439.9h0M367 436.7h0M367.3 443.8h0M368.2 439.6h0M368.8 441.9h0M368.9 443.9h0M372.7 437.8h0M373.2 439.8h0M375.9 437.2h0M376.7 443.3h0M377.6 436.2h0M377.9 438.1h0M381.1 439.5h0M382.1 441.6h0M382.2 438.6h0M385 443.2h0M385.7 437.7h0M389.2 440.5h0M391.7 436.5h0M392.5 441.4h0M394.6 439.2h0M396 443.4h0M397.8 440.6h0M398.4 439.5h0M398.5 439.5h0M402.1 442.6h0M402.8 439.7h0M404 440.8h0M404.7 438.2h0M406 438.7h0M406.4 437.3h0M407.6 437.2h0M407.9 437.4h0M408.8 439h0M409.2 436.7h0M410.3 437.2h0M411.6 441.2h0M412.7 441.3h0M414.2 440.1h0M419.4 443.7h0M420 442.2h0M425.2 440.6h0M427 442.9h0M429.4 443.1h0M432.9 443.1h0M436 442.7h0M437.6 437.8h0M438.3 441.4h0M444.1 437.8h0M445.8 443.1h0M447.1 443h0M462 439.4h0M464 438.8h0M465.2 443.2h0M466.6 436.9h0M466.8 441.2h0M467.5 443.2h0M468.2 444h0M468.6 443.7h0M471.3 440.9h0M471.5 442.2h0M473.2 437.1h0M473.4 443.2h0M477.5 443.6h0M477.8 437.3h0M481.1 439.9h0M481.6 440.6h0M485.5 438.9h0M490.5 443.2h0M492.7 436.8h0M506.9 443h0M509.5 443.6h0M516.7 442.4h0M519.7 437.4h0M524.5 442.5h0M535.7 441.6h0M545.7 439.3h0M589 439.5h0M361.7 447.6h0M362 448.8h0M362.4 444.6h0M363.4 444.4h0M364.1 448.4h0M364.9 449.1h0M365 448.8h0M366.8 445.9h0M367.5 446h0M368.1 450.2h0M369.7 447.4h0M369.9 450.5h0M370.6 444.1h0M371.2 448.3h0M372.1 451.5h0M372.3 451.2h0M372.9 450.6h0M375.1 448h0M375.6 445.4h0M376.2 445.8h0M377.4 449.4h0M377.9 448.4h0M378.2 447h0M378.5 444h0M378.9 449.7h0M380.5 449.8h0M381 449.6h0M381.3 446.3h0M381.8 447.5h0M382.5 445.4h0M382.8 448.9h0M384.6 451.1h0M385.5 445.5h0M385.6 450.3h0M387.8 448.6h0M390.2 450.5h0M392.3 451.7h0M393.7 451.3h0M393.8 449.6h0M394.5 444.7h0M394.7 451.1h0M395.1 444.1h0M395.2 445h0M395.4 447h0M396.7 451.2h0M398.4 445.3h0M401.7 451.1h0M403.4 444.6h0M404.7 448.6h0M405.2 449.7h0M406.6 446.4h0M406.9 450.2h0M407.9 446.4h0M410.1 450h0M410.4 446.9h0M410.8 444.5h0M412.7 450.9h0M413.3 447.8h0M413.9 449.5h0M414.2 447.9h0M414.7 444.2h0M415.7 446.3h0M416.6 448.5h0M417.8 447.1h0M418.2 448.7h0M419.1 446.5h0M419.9 444.3h0M420.3 452h0M420.4 450.9h0M420.6 444.6h0M423.2 450.5h0M423.2 444.3h0M423.7 448.9h0M424.4 449h0M424.9 445.3h0M425.1 446h0M425.7 451.7h0M429.1 451h0M430.8 444.3h0M431.4 447.5h0M432.2 445.7h0M433.4 451.2h0M433.9 446.4h0M434.6 450.4h0M437.9 449.9h0M441.6 450.3h0M442.8 444.6h0M444.7 445h0M446.1 449.7h0M447.3 447.1h0M450.3 448.9h0M451.3 449.1h0M454 451.2h0M456.1 450.3h0M456.5 450.2h0M456.6 445.9h0M457 451.9h0M461.5 448.7h0M462.1 444.8h0M469.2 447.1h0M470.1 450.1h0M473.5 450.7h0M473.9 447h0M477 447.5h0M483.6 449.8h0M487.8 446.1h0M502.5 446.5h0M518.9 451.5h0M525.5 444.6h0M528.4 448.6h0M538.4 449.8h0M539.1 450.6h0M539.3 444.7h0M552.2 451h0M552.5 447.8h0M556.4 447h0M568.2 449.2h0M361.3 456.8h0M361.5 459.3h0M361.7 456.6h0M362.3 452.8h0M362.3 459.6h0M362.7 456.5h0M363 457.1h0M363 458.9h0M363.7 453.1h0M364.4 459.9h0M365.5 456.4h0M365.9 453.4h0M368 458.7h0M368.7 453.5h0M369.9 452.4h0M371.5 454.3h0M373.1 458.9h0M373.1 458.7h0M373.2 454.3h0M373.5 456.8h0M373.6 455.2h0M376.3 453.7h0M376.5 459.2h0M378.7 457.6h0M378.9 454h0M379.7 456.9h0M379.9 452.8h0M380.4 457.3h0M383.6 458.3h0M384.8 452.5h0M385.5 452.2h0M387.4 454.8h0M387.9 458.4h0M389.5 455.7h0M390.2 459.1h0M390.6 459.9h0M392.8 453.8h0M393.4 459.9h0M393.8 456.9h0M394.3 452.5h0M394.3 455.7h0M395.6 453.3h0M396.1 455.3h0M396.4 459.3h0M396.7 453.1h0M398.9 455h0M398.9 457.6h0M399.5 453.1h0M405.2 452.6h0M407.6 454.4h0M410 455.1h0M410.9 454.4h0M414.3 453h0M416.5 454.1h0M421.1 459.6h0M421.1 458.8h0M421.4 458.3h0M421.5 455.4h0M425.5 453.1h0M427.4 452.9h0M429.4 453h0M433.3 455.9h0M434.3 453.3h0M440.1 454.4h0M440.2 459h0M445.6 457.5h0M446.3 458.6h0M448.6 458.8h0M449.4 456.7h0M453.6 458.5h0M453.7 458.7h0M454.2 456.1h0M454.7 459.9h0M461.9 458.6h0M464.1 456.2h0M464.4 454.1h0M464.5 452.7h0M466.6 458.5h0M468.9 453.8h0M473.3 457.7h0M479.9 454.9h0M482.3 453.4h0M487.7 459.8h0M490.9 459.3h0M492.6 459.7h0M510.5 458.9h0M510.8 459.8h0M514.3 457.8h0M515.1 455.8h0M517 452.9h0M517.1 456.9h0M519.6 457.6h0M558.1 455.2h0M361.4 464.3h0M361.4 464.2h0M361.4 466.7h0M361.7 460.9h0M362.8 467.8h0M363.9 467.3h0M365.9 465.9h0M368.9 461.7h0M369.3 466.1h0M369.3 462.3h0M369.4 460.3h0M370.3 460.5h0M370.3 462h0M370.7 467.1h0M371.4 461.4h0M372.2 466.1h0M374.2 467.3h0M374.6 467.6h0M376 461.5h0M376.3 460.8h0M377.8 463.7h0M379.7 460.5h0M379.7 461.8h0M382.3 460.4h0M383 467.5h0M387.7 463.5h0M387.7 462h0M388.1 461h0M388.5 466.3h0M388.8 467h0M393.7 467.6h0M394 467.5h0M394.3 465.5h0M395.2 463.6h0M395.3 465.2h0M395.6 465.6h0M396.3 467.8h0M397.2 463.7h0M397.8 465.1h0M398.3 462.5h0M400.1 462.8h0M401.3 465.6h0M401.4 467.9h0M402.6 464.4h0M402.7 461.3h0M404 464.3h0M405 467.8h0M405.5 464.7h0M405.6 463.2h0M405.6 460.2h0M407.7 466.2h0M408.8 463.3h0M410.7 464.5h0M411.1 463.6h0M417.2 467.6h0M417.9 466h0M420.6 460.1h0M422.5 462.7h0M423.4 464.7h0M423.5 464.4h0M425.4 460.1h0M427.3 465.1h0M427.6 461h0M429 464.5h0M438.4 462.1h0M438.7 464h0M439.7 465h0M441.2 464.2h0M441.7 461.1h0M442.1 463.8h0M450 465.2h0M455 465h0M458 465.9h0M460.3 466.9h0M463.3 460.4h0M481 461.8h0M486.2 462.5h0M499.4 466.8h0M509 463.4h0M510.6 462.9h0M513.6 463.3h0M513.9 461.4h0M537 463.5h0M540.7 463.3h0M551.5 462.5h0M559.5 465.3h0M566.8 460.7h0M567.9 465.5h0M584.7 461.4h0M599.9 463.6h0M361.8 473.2h0M362.3 474.1h0M362.6 470.9h0M362.7 473.7h0M362.8 471h0M366 470.3h0M366.9 474.1h0M367.4 475.2h0M367.9 471.7h0M369.6 468.3h0M369.8 468.3h0M371.3 472.3h0M371.9 472h0M372.1 473.9h0M372.2 469.6h0M372.4 473.2h0M372.6 473.7h0M373.5 471.5h0M373.5 475.7h0M373.6 468.9h0M375.3 475.4h0M375.5 469.5h0M376.8 470.8h0M376.9 472.7h0M378.6 474.4h0M381.9 471.8h0M384.6 475.8h0M385.9 475.5h0M386.6 474.6h0M389.3 471.7h0M389.6 475.5h0M391.3 470.5h0M392.3 472.4h0M392.4 472.3h0M393.2 471h0M393.8 469h0M394 473.8h0M394.5 469.1h0M395.5 470.8h0M395.6 468.8h0M396.4 468.4h0M396.6 472.3h0M397.3 470.3h0M398.2 470.2h0M400.8 470.8h0M401.2 470.1h0M406.3 472.7h0M408 472.5h0M413.2 471.3h0M415.3 473h0M415.5 474.6h0M417.5 475.2h0M418.8 472.6h0M419.1 470.3h0M432.9 473h0M433 475.3h0M433.2 468.9h0M434.5 469.1h0M434.8 468.6h0M439.4 470h0M440.1 473h0M442 468.3h0M443.2 468.6h0M443.5 474.2h0M444.9 472.2h0M451.3 473.6h0M451.8 472.1h0M458.1 474.9h0M458.6 475.3h0M459.1 468.9h0M463.9 472.2h0M484.4 471.2h0M489 473.8h0M499.8 474.6h0M514 468.3h0M515.2 468.3h0M543.6 469.7h0M572.7 470.5h0M579.8 468.5h0M584.7 474.7h0M594.2 473.3h0M361.3 481.1h0M361.8 483h0M363.9 476.4h0M364.3 476.3h0M366.7 476.3h0M367 480.6h0M367.5 481.8h0M368.7 478.6h0M371.6 480.8h0M372.1 476.1h0M372.1 482.5h0M373.5 483h0M373.8 481h0M373.9 477.2h0M374 479.9h0M375.1 477.7h0M377.5 478.1h0M378.5 476.2h0M378.8 479.8h0M379.5 483.7h0M379.9 476.6h0M381.9 483.4h0M383.6 482.1h0M384.2 483.6h0M384.4 476.1h0M385.4 480.4h0M387.6 481.4h0M390.6 481.9h0M391.5 483.9h0M392.2 476.5h0M393.8 478.7h0M393.8 478h0M393.8 484h0M395 482h0M396.1 478h0M398 479.8h0M399.6 482h0M401.2 481.5h0M402 478.2h0M403.5 478.5h0M403.9 478.1h0M404.8 478.2h0M405.4 478.2h0M405.4 477.1h0M405.5 482.3h0M409 476.9h0M409.9 476.1h0M412.4 482.3h0M417.1 481.3h0M419.8 483.6h0M419.9 477.5h0M421.4 478.4h0M422.1 478.4h0M423.8 476.4h0M425.1 476.7h0M429.8 483.7h0M435.8 482.4h0M436 476.5h0M443.6 481.4h0M444.8 477.6h0M448.8 478.4h0M451.5 478.8h0M452.5 478.8h0M458 483.6h0M460.6 477.1h0M476.1 479.6h0M479.3 482.1h0M487.9 476.6h0M489.3 480.6h0M496.3 478.7h0M512.1 482h0M528 478.3h0M537.7 481h0M561.1 480h0M362.7 485h0M364.4 487.9h0M366.3 486.4h0M368.9 487h0M371.8 484.9h0M379.1 487.3h0M380.6 485.3h0M382.2 487.2h0M385.1 484.3h0M386.2 484.1h0M387.3 486.3h0M388.8 487h0M391.4 488h0M392.9 487.2h0M393.1 485.4h0M397.6 486.3h0M397.8 487.8h0M398.6 486.2h0M399.2 487h0M399.8 484.6h0M400.2 485.7h0M401.1 485.3h0M403.7 484.4h0M406.7 485.4h0M411.7 486.2h0M414 484.2h0M430.5 487.5h0M440.4 485.5h0M443.2 484.3h0M444.1 484.7h0M461.3 484.2h0M461.5 484.9h0M462.6 485.4h0M464.9 487.9h0M467.1 484.2h0M467.4 485.3h0M478.2 486.4h0M490.1 485.2h0M548.4 485.8h0"/>
<path d="M353.4 97.4V502" stroke="#000" stroke-width="3.4" stroke-dasharray="14 18.4" fill="none"/>
</g></g>

<!-- axes -->
<g fill="none" stroke="#3c3c3c" stroke-width="1.6">
<rect x="107.8" y="89.7" width="491.2" height="412.3"/>
<path d="M126 502v13.4M201.7 502v13.4M277.4 502v13.4M353.15 502v13.4M428.9 502v13.4M504.6 502v13.4M580.3 502v13.4"/>
<path d="M107.8 502h-13.4M107.8 446.3h-13.4M107.8 390.6h-13.4M107.8 334.9h-13.4M107.8 279.2h-13.4M107.8 223.5h-13.4M107.8 167.8h-13.4M107.8 112.1h-13.4"/>
</g>

<!-- x tick labels -->
<g font-size="21.3" fill="#1a1a1a" text-anchor="middle">
<text x="126" y="548.6">−60</text>
<text x="201.7" y="548.6">−40</text>
<text x="277.4" y="548.6">−20</text>
<text x="353.15" y="548.6">0</text>
<text x="428.9" y="548.6">20</text>
<text x="504.6" y="548.6">40</text>
<text x="580.3" y="548.6">60</text>
</g>
<!-- y tick labels (rotated) -->
<g font-size="21.3" fill="#1a1a1a" text-anchor="middle">
<text transform="translate(76.8 502) rotate(-90)">0</text>
<text transform="translate(76.8 446.3) rotate(-90)">5</text>
<text transform="translate(76.8 390.6) rotate(-90)">10</text>
<text transform="translate(76.8 334.9) rotate(-90)">15</text>
<text transform="translate(76.8 279.2) rotate(-90)">20</text>
<text transform="translate(76.8 223.5) rotate(-90)">25</text>
<text transform="translate(76.8 167.8) rotate(-90)">30</text>
<text transform="translate(76.8 112.1) rotate(-90)">35</text>
</g>
<!-- axis titles -->
<text x="353.1" y="600.8" font-size="21.5" text-anchor="middle" fill="#1a1a1a">logFC</text>
<text transform="translate(24 295) rotate(-90)" font-size="21.3" text-anchor="middle" fill="#1a1a1a">−log10(fdr)</text>

<!-- venn -->
<circle cx="964.3" cy="298.3" r="221" fill="#b1b1f9"/>
<circle cx="1185.6" cy="298.2" r="221" fill="#f9b1b1"/>
<path d="M1074.95 106.95A221 221 0 0 1 1074.95 489.55A221 221 0 0 1 1074.95 106.95Z" fill="#c57cb1"/>
<circle cx="964.3" cy="298.3" r="221" fill="none" stroke="#2020cc" stroke-width="1.8"/>
<circle cx="1185.6" cy="298.2" r="221" fill="none" stroke="#d42a30" stroke-width="1.8"/>
<path d="M1074.95 106.95A221 221 0 0 1 1074.95 489.55" fill="none" stroke="#3a1cc0" stroke-width="1.8"/>
<text x="791.6" y="58.8" font-size="27" textLength="124.6" lengthAdjust="spacingAndGlyphs" fill="#111">diff mRNA</text>
<text x="1228" y="59.2" font-size="27" textLength="164.5" lengthAdjust="spacingAndGlyphs" fill="#111">DFRG mRNA</text>
<g font-size="27" text-anchor="middle">
<text x="858.6" y="308.2" fill="#14143c">8569</text>
<text x="1078" y="308.2" fill="#220a30">199</text>
<text x="1296.3" y="308.2" fill="#321010">145</text>
</g>
</svg>
</body>
</html>
